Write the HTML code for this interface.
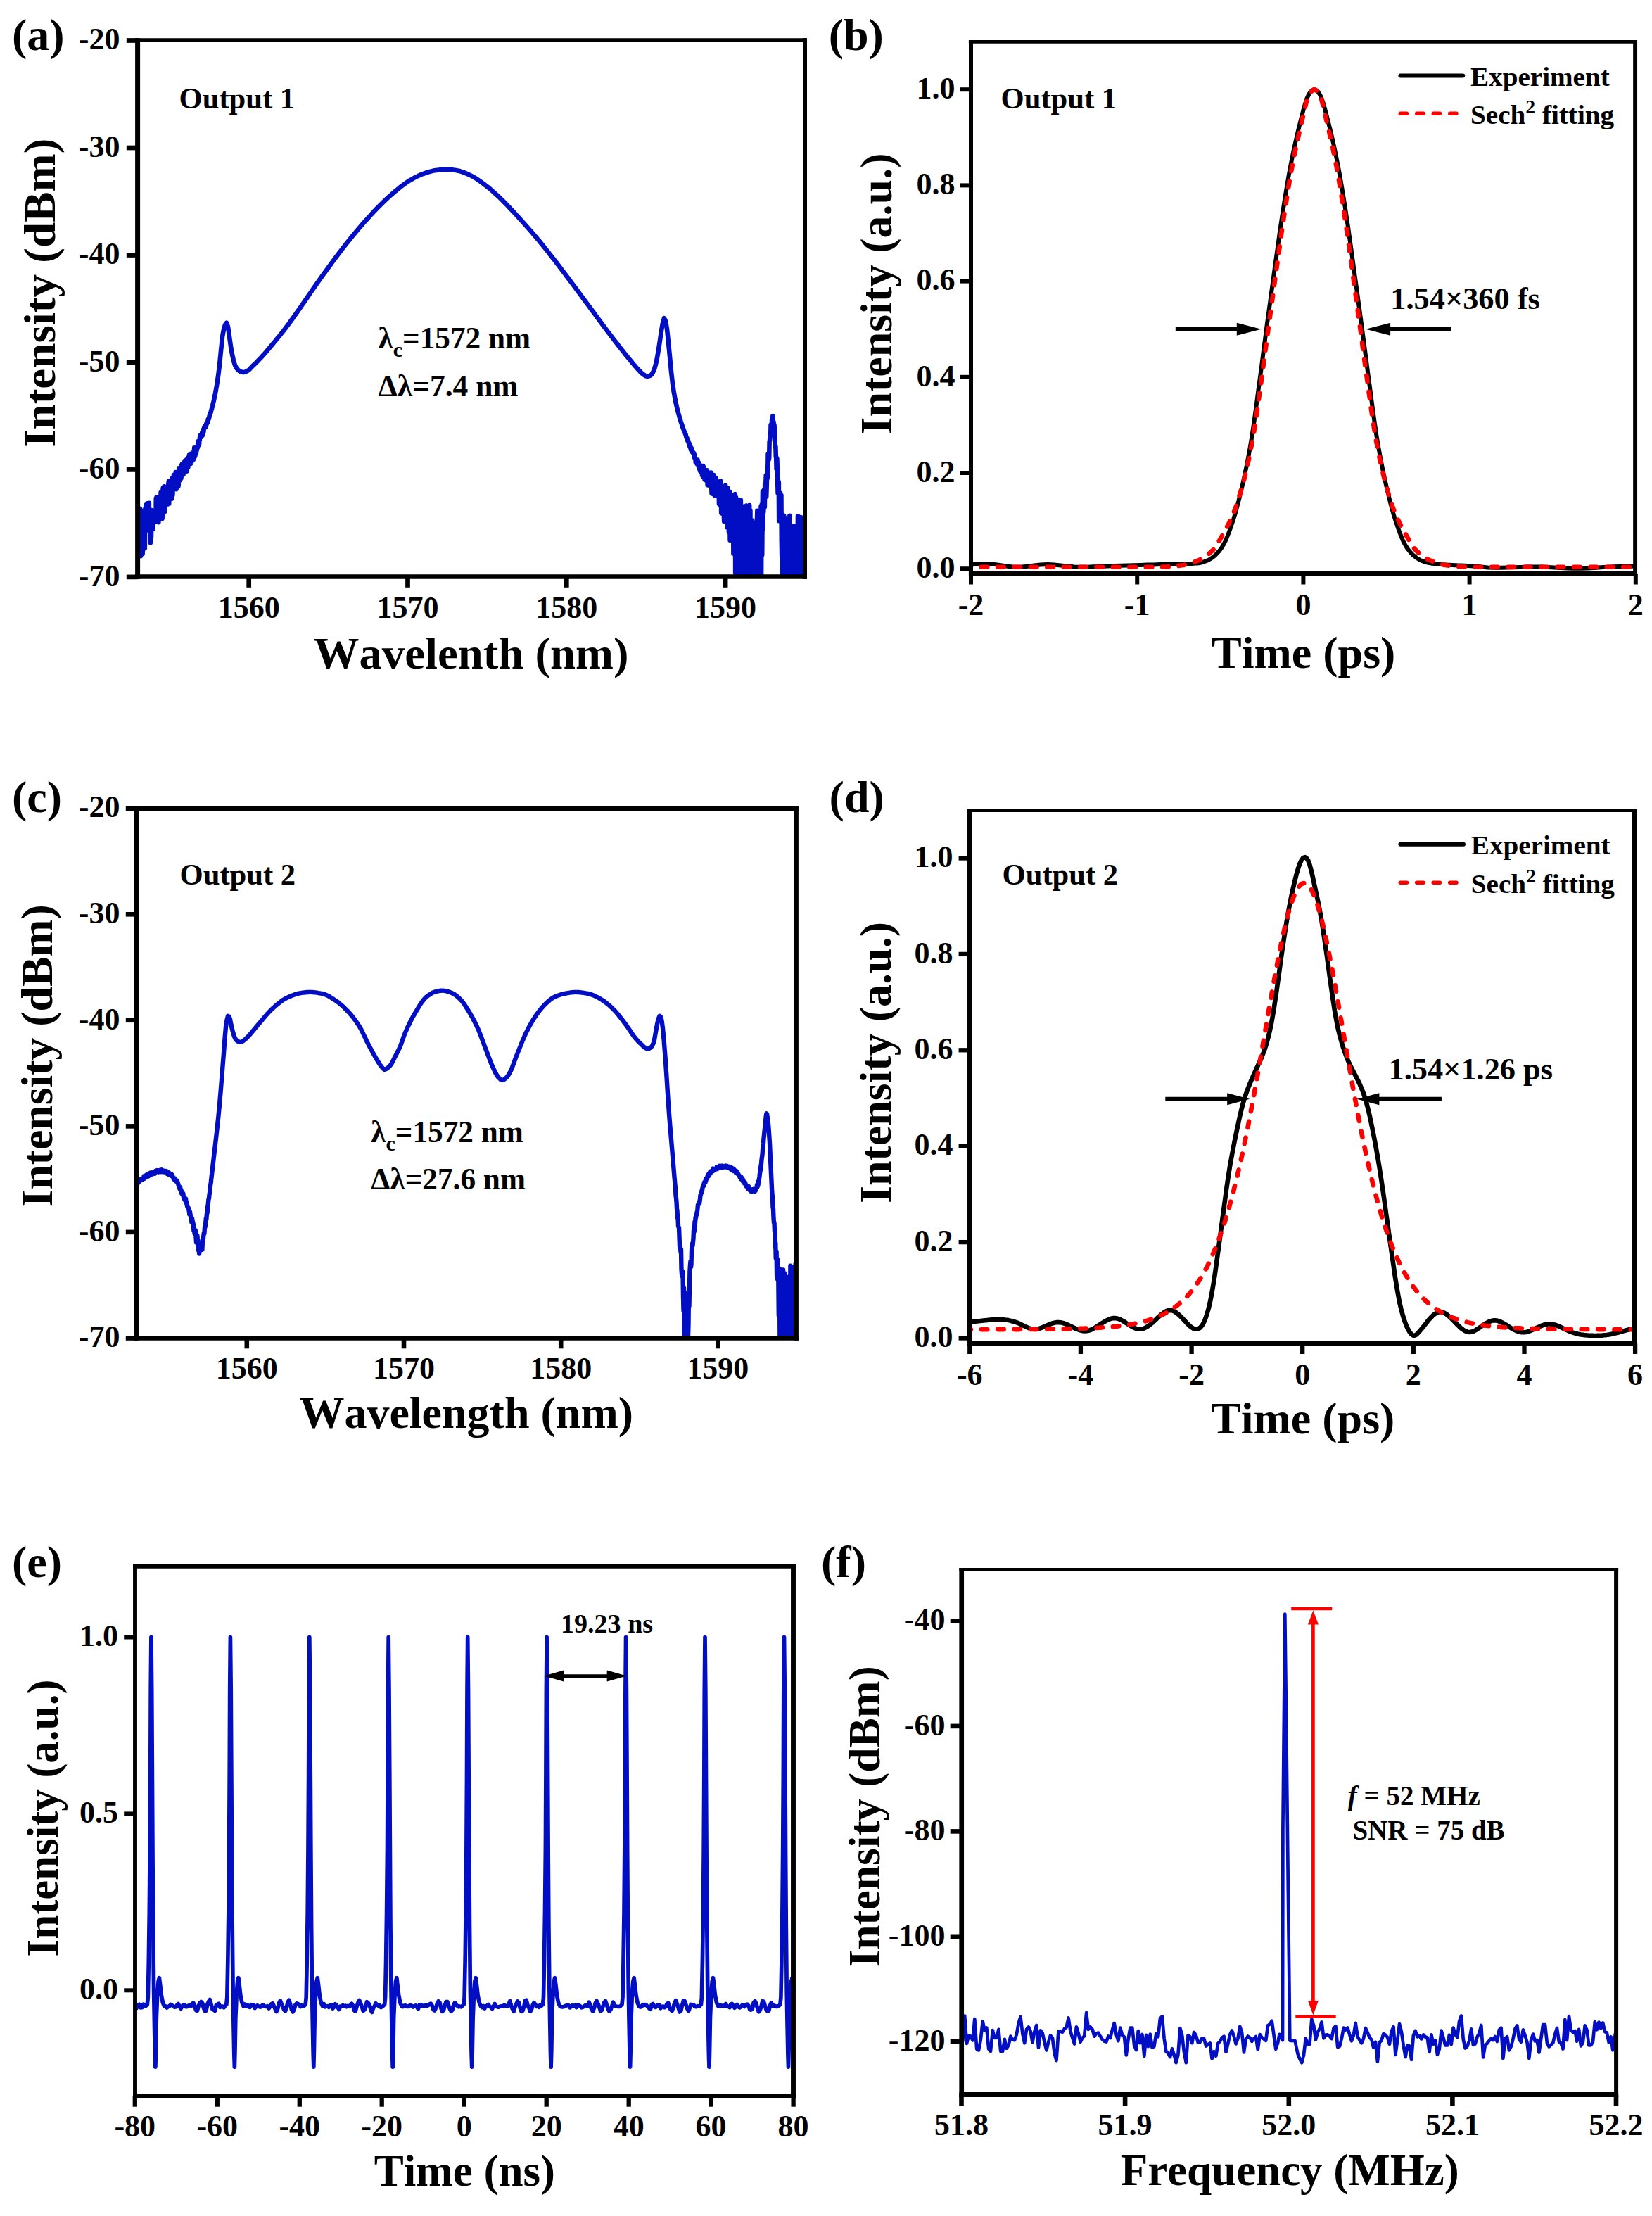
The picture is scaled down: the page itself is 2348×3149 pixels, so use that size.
<!DOCTYPE html>
<html lang="en"><head><meta charset="utf-8"><title>Figure</title>
<style>html,body{margin:0;padding:0;background:#fff}svg{display:block}text{font-family:'Liberation Serif', 'DejaVu Serif', serif;font-weight:bold;fill:#000;font-kerning:none}</style>
</head><body>
<svg width="2348" height="3149" viewBox="0 0 2348 3149">
<rect width="2348" height="3149" fill="#fff"/>
<defs><clipPath id="ca"><rect x="195.6" y="57.5" width="948.4" height="762.4"/></clipPath><clipPath id="cb"><rect x="1380.4" y="59.3" width="944" height="756.2"/></clipPath><clipPath id="cc"><rect x="194.6" y="1148.7" width="937.3" height="752.8"/></clipPath><clipPath id="cd"><rect x="1378.3" y="1152.6" width="945.8" height="756.2"/></clipPath><clipPath id="ce"><rect x="191.8" y="2226" width="935.8" height="752.7"/></clipPath><clipPath id="cf"><rect x="1366.5" y="2230.1" width="930.5" height="746.6"/></clipPath></defs>
<g id="panel-a">
<polyline points="194.6,778.2 195,768.4 195.4,732.3 195.8,739.6 196.2,761 196.6,766.2 197,744.4 197.4,781.3 197.8,739.1 198.2,723.7 198.6,773.3 199,722.9 199.4,738.5 199.8,790.3 200.2,753.9 200.6,725.2 201,735.5 201.4,762.4 201.8,732.7 202.2,771.7 202.6,787.2 203,776.9 203.4,758.6 203.8,748.2 204.2,764 204.6,725.8 205,769.7 205.4,775.8 205.8,779.2 206.2,736.4 206.6,721.9 207,735.3 207.4,717.5 207.8,727.4 208.2,720.1 208.6,716.5 209,736.2 209.4,715.4 209.8,738.4 210.2,753.5 210.6,740.1 211,727.1 211.4,747.3 211.8,714.8 212.2,751.6 212.6,744.9 213,750.2 213.4,742.8 213.8,771.3 214.2,725.7 214.6,746.2 215,762.8 215.4,725 215.8,752.3 216.2,742.4 216.6,733.3 217,752.3 217.4,746.6 217.8,729.9 218.2,729.3 218.6,742.2 219,738.8 219.4,739.4 219.8,740 220.2,726.5 220.6,742 221,724.8 221.4,738.5 221.8,708.4 222.2,741.5 222.6,706.6 223,740.2 223.4,710.3 223.8,715.8 224.2,736.3 224.6,708.6 225,732.6 225.4,742.1 225.8,713.1 226.2,716.2 226.6,711.5 227,733.7 227.4,728.8 227.8,707.9 228.2,737.1 228.6,699.9 229,717.3 229.4,708.6 229.8,721.6 230.2,727.8 230.6,736.8 231,724.8 231.4,696.9 231.8,693.1 232.2,712 232.6,714.1 233,718.1 233.4,691.4 233.8,727.4 234.2,710.3 234.6,720.3 235,716.2 235.4,694.9 235.8,716.4 236.2,701.6 236.6,708 237,702 237.4,708 237.8,709.4 238.2,708.7 238.6,716.4 239,699.9 239.4,686.5 239.8,684.2 240.2,715.8 240.6,684 241,710.1 241.4,687.8 241.8,683 242.2,706 242.6,699.3 243,697.1 243.4,697.5 243.8,691.3 244.2,708.6 244.6,693.1 245,679.4 245.4,703.3 245.8,689.3 246.2,688.8 246.6,679.8 247,674.8 247.4,680.8 247.8,692.7 248.2,680.6 248.6,689.1 249,677 249.4,678.8 249.8,671 250.2,673.1 250.6,695.2 251,687 251.4,671.6 251.8,677.4 252.2,683.5 252.6,691.3 253,671.8 253.4,691.5 253.8,688 254.2,665.2 254.6,669.3 255,666.8 255.4,675.2 255.8,682.4 256.2,672.6 256.6,674.6 257,680.6 257.4,679.8 257.8,676.8 258.2,661.1 258.6,659.7 259,664.9 259.4,663.9 259.8,663.2 260.2,667.1 260.6,674.2 261,658.7 261.4,658.1 261.8,660.9 262.2,656.1 262.6,654.8 263,663.4 263.4,657.9 263.8,660 264.2,669.9 264.6,664.9 265,669.7 265.4,653 265.8,669.4 266.2,658.3 266.6,664.8 267,664.8 267.4,663.8 267.8,650.1 268.2,656.2 268.6,658.5 269,646.6 269.4,653.6 269.8,657.4 270.2,655.5 270.6,649.3 271,658.8 271.4,647.1 271.8,644.6 272.2,650.5 272.6,650.5 273,654.9 273.4,649.4 273.8,643.3 274.2,648.1 274.6,644.2 275,652.8 275.4,649 275.8,648.5 276.2,636.2 276.6,649.4 277,645.8 277.4,647.8 277.8,637.8 278.2,636.8 278.6,640.2 279,643.8 279.4,637.1 279.8,639.8 280.2,635.3 280.6,635 281,636 281.4,627.2 281.8,628.1 282.2,629.8 282.6,629.7 283,632.2 283.4,625.3 283.8,625.4 284.2,620.1 284.6,618.6 285,619.3 285.4,617.9 285.8,620.6 286.2,620.8 286.6,618.8 287,617.4 287.4,614 287.8,618.7 288.2,614.1 288.6,610.9 289,615.1 289.4,613.6 289.8,608.9 290.2,609.3 290.6,606.6 291,607.7 291.4,605.1 291.8,604.9 292.2,604.9 292.6,606.5 293,605.3 293.4,601.3 293.8,602.8 294.2,600.2 294.6,600.3 295,599.2 295.4,599.8 295.8,595.8 296.2,596.4 296.6,595.2 297,594.8 297.4,592 297.8,590.4 298.2,589.9 298.6,588.7 299,586.8 299.4,586.9 299.8,584.7 300,584.1 302,576.8 304,568.7 306,559.1 308,548 310,534.8 312,519 314,498.7 316,478.9 318,468.2 320,461.4 322,458.7 324,464.3 326,478.3 328,492.2 330,503.8 332,512.5 334,519 336,522.7 338,525.3 340,527 342,528.1 344,528.8 346,529.1 348,528.7 350,527.8 352,526.8 354,525.3 356,523.3 358,521.2 360,519.2 362,517.3 364,515.4 366,513.4 368,511.3 370,509.2 372,507 374,504.8 376,502.6 378,500.3 380,497.9 382,495.6 384,493.2 386,490.8 388,488.4 390,486 392,483.6 394,481.2 396,478.7 398,476.2 400,473.7 402,471.2 404,468.7 406,466.1 408,463.4 410,460.8 412,458 414,455.3 416,452.5 418,449.7 420,446.8 422,444 424,441.1 426,438.3 428,435.4 430,432.5 432,429.6 434,426.7 436,423.8 438,420.8 440,417.9 442,415 444,412.1 446,409.2 448,406.3 450,403.5 452,400.7 454,397.8 456,395 458,392.2 460,389.4 462,386.7 464,383.9 466,381.2 468,378.4 470,375.7 472,372.9 474,370.2 476,367.5 478,364.8 480,362.2 482,359.5 484,356.9 486,354.3 488,351.7 490,349.2 492,346.6 494,344.1 496,341.6 498,339.1 500,336.6 502,334.2 504,331.8 506,329.4 508,327 510,324.6 512,322.3 514,320 516,317.7 518,315.4 520,313.2 522,311 524,308.8 526,306.6 528,304.4 530,302.3 532,300.1 534,298 536,295.9 538,293.9 540,291.9 542,289.9 544,287.9 546,286 548,284.1 550,282.2 552,280.4 554,278.5 556,276.8 558,275 560,273.3 562,271.6 564,270 566,268.4 568,266.7 570,265.1 572,263.6 574,262.1 576,260.6 578,259.2 580,257.9 582,256.7 584,255.5 586,254.3 588,253.2 590,252.1 592,251.1 594,250.1 596,249.2 598,248.3 600,247.5 602,246.8 604,246.1 606,245.4 608,244.8 610,244.2 612,243.6 614,243.1 616,242.6 618,242.2 620,241.9 622,241.7 624,241.5 626,241.3 628,241.1 630,240.9 632,240.8 634,240.7 636,240.7 638,240.8 640,240.9 642,241.1 644,241.4 646,241.7 648,242 650,242.4 652,242.8 654,243.3 656,244 658,244.7 660,245.4 662,246.2 664,247.1 666,248 668,248.9 670,249.9 672,250.9 674,252.1 676,253.3 678,254.6 680,256 682,257.4 684,258.8 686,260.3 688,261.7 690,263.3 692,264.8 694,266.4 696,268.1 698,269.8 700,271.6 702,273.4 704,275.2 706,277 708,278.8 710,280.7 712,282.7 714,284.6 716,286.6 718,288.7 720,290.7 722,292.8 724,294.9 726,297 728,299.1 730,301.2 732,303.4 734,305.6 736,307.8 738,310 740,312.2 742,314.4 744,316.7 746,318.9 748,321.2 750,323.4 752,325.7 754,327.9 756,330.2 758,332.5 760,334.8 762,337.2 764,339.6 766,341.9 768,344.4 770,346.8 772,349.3 774,351.8 776,354.3 778,356.8 780,359.3 782,361.9 784,364.4 786,367 788,369.5 790,372.1 792,374.7 794,377.3 796,379.9 798,382.6 800,385.2 802,387.9 804,390.5 806,393.2 808,395.8 810,398.5 812,401.2 814,403.9 816,406.6 818,409.3 820,412 822,414.7 824,417.4 826,420.1 828,422.8 830,425.5 832,428.2 834,430.9 836,433.6 838,436.3 840,439 842,441.7 844,444.4 846,447.1 848,449.9 850,452.6 852,455.3 854,458 856,460.7 858,463.4 860,466.1 862,468.8 864,471.4 866,474 868,476.7 870,479.3 872,481.9 874,484.5 876,487.1 878,489.6 880,492.2 882,494.7 884,497.3 886,499.8 888,502.4 890,504.9 892,507.3 894,509.8 896,512.2 898,514.6 900,517 902,519.3 904,521.6 906,523.9 908,526 910,528.1 912,530.2 914,531.8 916,533.2 918,534.3 920,534.8 922,534.5 924,533.8 926,532.5 928,529.2 930,524.7 932,517.6 934,508.5 936,496.7 938,483.8 940,470 942,458.8 944,452.1 946,456.2 948,467.5 950,486.4 952,507 954,528 956,545.5 958,558.7 960,569.6 962,578.7 964,586.6 966,593.6 966.4,594.9 966.8,596.1 967.2,597.5 967.6,598.9 968,599.9 968.4,601.3 968.8,602.4 969.2,603.9 969.6,604.6 970,606.3 970.4,607.5 970.8,608.5 971.2,609.4 971.6,610.5 972,611.6 972.4,613.2 972.8,613.5 973.2,614.3 973.6,614.9 974,616.7 974.4,617 974.8,617.9 975.2,620.5 975.6,621.9 976,622.8 976.4,622.4 976.8,624.7 977.2,626.2 977.6,624.8 978,626.5 978.4,626.6 978.8,629.7 979.2,631.3 979.6,632.6 980,630.4 980.4,634.6 980.8,632.8 981.2,636.4 981.6,634.4 982,639.3 982.4,638.6 982.8,639.5 983.2,637.3 983.6,638.6 984,642.5 984.4,643.2 984.8,642.3 985.2,643.7 985.6,642.9 986,645.2 986.4,647.3 986.8,645.4 987.2,650.6 987.6,651.3 988,652.4 988.4,652.2 988.8,657.2 989.2,654.3 989.6,656.5 990,658.1 990.4,658.9 990.8,654.1 991.2,659.1 991.6,653.6 992,660.3 992.4,657.8 992.8,663 993.2,657.5 993.6,665.6 994,665.5 994.4,665.9 994.8,668.9 995.2,661 995.6,665.8 996,670.9 996.4,665.4 996.8,666.7 997.2,666.9 997.6,664.3 998,675.2 998.4,668.7 998.8,676.8 999.2,662 999.6,667.4 1000,676.5 1000.4,664 1000.8,677.6 1001.2,674.7 1001.6,681.5 1002,675.5 1002.4,669.1 1002.8,681.9 1003.2,669.1 1003.6,676.5 1004,669.4 1004.4,683.3 1004.8,668.3 1005.2,672.2 1005.6,688.6 1006,678.5 1006.4,689.5 1006.8,674 1007.2,683 1007.6,673.7 1008,671.7 1008.4,689.9 1008.8,674 1009.2,685.1 1009.6,685.8 1010,679 1010.4,671.6 1010.8,679.1 1011.2,693 1011.6,701.3 1012,698.1 1012.4,692.5 1012.8,701.1 1013.2,702 1013.6,674.8 1014,700.1 1014.4,694.1 1014.8,675.2 1015.2,688.4 1015.6,683.8 1016,698.3 1016.4,685.4 1016.8,704.7 1017.2,697.8 1017.6,679.1 1018,685 1018.4,695.1 1018.8,695.8 1019.2,685.8 1019.6,699.4 1020,698.5 1020.4,693.6 1020.8,694.4 1021.2,699.1 1021.6,693.7 1022,715.9 1022.4,689.3 1022.8,717 1023.2,687.5 1023.6,697.7 1024,683.6 1024.4,706.3 1024.8,695.5 1025.2,729 1025.6,714.8 1026,724.8 1026.4,697.2 1026.8,730 1027.2,706.8 1027.6,722.6 1028,729.8 1028.4,693 1028.8,726.2 1029.2,740.9 1029.6,717.6 1030,731.9 1030.4,700.2 1030.8,705.9 1031.2,689.9 1031.6,694.8 1032,729.3 1032.4,695.2 1032.8,735.9 1033.2,696.4 1033.6,749.4 1034,693.4 1034.4,714.8 1034.8,723.3 1035.2,728.6 1035.6,731.7 1036,756.5 1036.4,713.3 1036.8,736.5 1037.2,698.9 1037.6,767.8 1038,728.8 1038.4,719.8 1038.8,710 1039.2,715.7 1039.6,736.1 1040,711.3 1040.4,713.4 1040.8,743.9 1041.2,739.7 1041.6,749.2 1042,710.8 1042.4,786.7 1042.8,709.3 1043.2,727.9 1043.6,752.4 1044,702.7 1044.4,702.3 1044.8,702.2 1045.2,814.3 1045.6,743.1 1046,706.9 1046.4,849.9 1046.8,774.3 1047.2,751.2 1047.6,781.9 1048,739.9 1048.4,744.8 1048.8,716.6 1049.2,798.4 1049.6,725.1 1050,754.1 1050.4,710 1050.8,718.4 1051.2,849.9 1051.6,773 1052,807.9 1052.4,760.5 1052.8,710.5 1053.2,749.6 1053.6,849.9 1054,732.2 1054.4,841.8 1054.8,769.8 1055.2,745.9 1055.6,719.5 1056,798.8 1056.4,744.3 1056.8,849.9 1057.2,849.9 1057.6,783.5 1058,756.2 1058.4,826.6 1058.8,738.6 1059.2,815.4 1059.6,836.9 1060,744.9 1060.4,743.8 1060.8,718.6 1061.2,849.9 1061.6,849.9 1062,731.5 1062.4,840.6 1062.8,724.9 1063.2,763.3 1063.6,759 1064,849.9 1064.4,764.6 1064.8,728.5 1065.2,718.1 1065.6,804.1 1066,849.9 1066.4,725.7 1066.8,795.6 1067.2,786.7 1067.6,783.2 1068,768.7 1068.4,849.9 1068.8,849.9 1069.2,739.5 1069.6,756 1070,802 1070.4,753.1 1070.8,745.8 1071.2,840.1 1071.6,803 1072,849.9 1072.4,849.9 1072.8,762.2 1073.2,743 1073.6,759.8 1074,849.9 1074.4,755 1074.8,797.6 1075.2,788.6 1075.6,849.9 1076,737.6 1076.4,725.8 1076.8,832.8 1077.2,805.9 1077.6,774.7 1078,793.2 1078.4,798.8 1078.8,737.2 1079.2,746.7 1079.6,806.2 1080,747 1080.4,740.3 1080.8,772.6 1081.2,811.3 1081.6,719.3 1082,849.9 1082.4,727.2 1082.8,717.1 1083.2,788.5 1083.6,731.9 1084,698.3 1084.4,751.9 1084.8,715.8 1085.2,727.8 1085.6,720.6 1086,696 1086.4,705.2 1086.8,720.5 1087.2,687.7 1087.6,694 1088,705 1088.4,685.1 1088.8,675.2 1089.2,705.6 1089.6,694.2 1090,680.2 1090.4,680.2 1090.8,663.4 1091.2,678.6 1091.6,645.3 1092,646.3 1092.4,650.7 1092.8,653.4 1093.2,650 1093.6,628.2 1094,626.2 1094.4,623.4 1094.8,619.7 1095.2,619.1 1095.6,603.9 1096,608.7 1096.4,604.6 1096.8,602.2 1097.2,595.5 1097.6,597.5 1098,599.5 1098.4,591 1098.8,601.6 1099.2,603.8 1099.6,599.7 1100,606.6 1100.4,603.3 1100.8,608.2 1101.2,618.7 1101.6,632.4 1102,635.9 1102.4,634.2 1102.8,648.8 1103.2,648.7 1103.6,666.5 1104,658.1 1104.4,652 1104.8,666.6 1105.2,685.4 1105.6,700.6 1106,682.6 1106.4,689.7 1106.8,685.1 1107.2,740.3 1107.6,733.9 1108,705.7 1108.4,712.7 1108.8,708.7 1109.2,700.8 1109.6,711.7 1110,727 1110.4,703.9 1110.8,766.9 1111.2,791 1111.6,792.2 1112,743 1112.4,849.9 1112.8,778.9 1113.2,795.5 1113.6,849.9 1114,732.6 1114.4,733.4 1114.8,845.1 1115.2,849.9 1115.6,760 1116,849.9 1116.4,769.2 1116.8,811.6 1117.2,737.6 1117.6,847.9 1118,785.9 1118.4,849.9 1118.8,833.4 1119.2,736.9 1119.6,849.9 1120,754.7 1120.4,812.5 1120.8,786.2 1121.2,740.8 1121.6,740.7 1122,824.8 1122.4,732.8 1122.8,849.9 1123.2,849.9 1123.6,782.9 1124,788.7 1124.4,806 1124.8,849.9 1125.2,837.6 1125.6,801.2 1126,849.9 1126.4,849.9 1126.8,849.9 1127.2,752 1127.6,785.4 1128,849.9 1128.4,794.8 1128.8,747.2 1129.2,849.9 1129.6,849.9 1130,849.9 1130.4,826.7 1130.8,849.9 1131.2,749.6 1131.6,799.1 1132,849.9 1132.4,849.9 1132.8,807.9 1133.2,759.8 1133.6,779.9 1134,733.4 1134.4,849.9 1134.8,780.9 1135.2,736.6 1135.6,824.1 1136,849.9 1136.4,849.9 1136.8,841.3 1137.2,849.9 1137.6,813.8 1138,735.1 1138.4,744.1 1138.8,784.1 1139.2,738.1 1139.6,778 1140,849.9 1140.4,773.5 1140.8,785.5 1141.2,775 1141.6,849.9 1142,761.7 1142.4,797.4 1142.8,735.2 1143.2,849.9 1143.6,799.4 1144,746.8 1144.4,849.9 1144.8,756.4 1145.2,738.3 1145.6,760.9" fill="none" stroke="#020ec4" stroke-width="6.6" stroke-linejoin="round" clip-path="url(#ca)"/>
<line x1="192.1" y1="57.1" x2="1147" y2="57.1" stroke="#000" stroke-width="5.8"/>
<line x1="192.1" y1="819.5" x2="1147" y2="819.5" stroke="#000" stroke-width="6.7"/>
<line x1="195.6" y1="54.2" x2="195.6" y2="822.9" stroke="#000" stroke-width="7"/>
<line x1="1144" y1="54.2" x2="1144" y2="822.9" stroke="#000" stroke-width="6"/>
<line x1="179.8" y1="57.5" x2="195.6" y2="57.5" stroke="#000" stroke-width="6.7"/>
<text transform="translate(170.5,70.2)" font-size="44" text-anchor="end">-20</text>
<line x1="179.8" y1="210" x2="195.6" y2="210" stroke="#000" stroke-width="6.7"/>
<text transform="translate(170.5,222.7)" font-size="44" text-anchor="end">-30</text>
<line x1="179.8" y1="362.5" x2="195.6" y2="362.5" stroke="#000" stroke-width="6.7"/>
<text transform="translate(170.5,375.2)" font-size="44" text-anchor="end">-40</text>
<line x1="179.8" y1="514.9" x2="195.6" y2="514.9" stroke="#000" stroke-width="6.7"/>
<text transform="translate(170.5,527.6)" font-size="44" text-anchor="end">-50</text>
<line x1="179.8" y1="667.4" x2="195.6" y2="667.4" stroke="#000" stroke-width="6.7"/>
<text transform="translate(170.5,680.1)" font-size="44" text-anchor="end">-60</text>
<line x1="179.8" y1="819.9" x2="195.6" y2="819.9" stroke="#000" stroke-width="6.7"/>
<text transform="translate(170.5,832.6)" font-size="44" text-anchor="end">-70</text>
<line x1="353.7" y1="819.9" x2="353.7" y2="834.8" stroke="#000" stroke-width="6.7"/>
<text transform="translate(353.7,878.3)" font-size="44" text-anchor="middle">1560</text>
<line x1="579.5" y1="819.9" x2="579.5" y2="834.8" stroke="#000" stroke-width="6.7"/>
<text transform="translate(579.5,878.3)" font-size="44" text-anchor="middle">1570</text>
<line x1="805.3" y1="819.9" x2="805.3" y2="834.8" stroke="#000" stroke-width="6.7"/>
<text transform="translate(805.3,878.3)" font-size="44" text-anchor="middle">1580</text>
<line x1="1031.1" y1="819.9" x2="1031.1" y2="834.8" stroke="#000" stroke-width="6.7"/>
<text transform="translate(1031.1,878.3)" font-size="44" text-anchor="middle">1590</text>
<text transform="translate(669.6,949.9) scale(1.012,1)" font-size="64" text-anchor="middle">Wavelenth (nm)</text>
<text transform="translate(77.5,416.2) rotate(-90) scale(1.017,1)" font-size="64" text-anchor="middle">Intensity (dBm)</text>
<text transform="translate(17,71.1)" font-size="64" text-anchor="start">(a)</text>
<text transform="translate(254.5,154.4) scale(0.992,1)" font-size="43" text-anchor="start">Output 1</text>
<text transform="translate(537.5,495) scale(0.995,1)" font-size="43.5" text-anchor="start">λ<tspan font-size="30" dy="12">c</tspan><tspan dy="-12">=1572 nm</tspan></text>
<text transform="translate(537.5,562.9)" font-size="43.5" text-anchor="start">Δλ=7.4 nm</text>
</g>
<g id="panel-b">
<polyline points="1375.3,802.6 1384.7,801.9 1394.2,801.5 1403.6,801.4 1413.1,801.9 1422.5,803.2 1432,804.7 1441.4,805.7 1450.9,805.7 1460.3,804.8 1469.8,803.6 1479.2,802.5 1488.7,802.1 1498.1,802.5 1507.5,803.4 1517,804.5 1526.4,805.4 1535.9,805.8 1545.3,805.7 1554.8,805.3 1564.2,804.9 1573.7,804.4 1583.1,804 1592.6,803.7 1602,803.4 1611.5,803.2 1620.9,802.9 1630.4,802.6 1639.8,802.4 1649.3,802.1 1658.7,801.9 1663.4,801.7 1665.8,801.7 1668.2,801.6 1670.5,801.5 1672.9,801.5 1675.2,801.4 1677.6,801.4 1680,801.3 1682.3,801.3 1684.7,801.2 1687.1,801.1 1689.4,801.1 1691.8,801 1694.1,800.9 1696.5,800.7 1698.9,800.6 1701.2,800.5 1703.6,800.3 1706,799.9 1708.3,799.3 1710.7,798.5 1713,797.7 1715.4,796.8 1717.8,795.7 1720.1,794.3 1722.5,792.7 1724.9,791 1727.2,789 1729.6,786.7 1731.9,784.1 1734.3,781.1 1736.7,777.7 1739,773.9 1741.4,769.3 1743.7,764 1746.1,758 1748.5,751.5 1750.8,744.7 1753.2,737.6 1755.6,729.9 1757.9,721.5 1760.3,712.5 1762.6,703 1765,693.1 1767.4,682.8 1769.7,671.9 1772.1,660.4 1774.5,648.2 1776.8,635.2 1779.2,621.3 1781.5,605.7 1783.9,588.8 1786.3,571.2 1788.6,553.4 1791,535.9 1793.4,518 1795.7,499.9 1798.1,481.9 1800.4,464.2 1802.8,446.7 1805.2,429.4 1807.5,412.3 1809.9,395.2 1812.2,378.1 1814.6,361 1817,343.8 1819.3,327 1821.7,311.1 1824.1,295.8 1826.4,280.8 1828.8,266.4 1831.1,252.5 1833.5,239.5 1835.9,227.3 1838.2,215.8 1840.6,204.9 1843,194.5 1845.3,184.6 1847.7,175.1 1850,165.9 1852.4,156.6 1854.8,148.1 1857.1,140.8 1859.5,135.5 1861.8,131.4 1864.2,129 1866.6,127.5 1868.9,127.3 1871.3,128.7 1873.7,130.8 1876,134.5 1878.4,139.6 1880.7,146.5 1883.1,154.8 1885.5,164 1887.8,173.3 1890.2,182.6 1892.6,192.5 1894.9,202.8 1897.3,213.6 1899.6,225 1902,237 1904.4,249.9 1906.7,263.5 1909.1,277.9 1911.5,292.8 1913.8,308 1916.2,323.7 1918.5,340.4 1920.9,357.5 1923.3,374.7 1925.6,391.8 1928,408.8 1930.3,426 1932.7,443.3 1935.1,460.7 1937.4,478.3 1939.8,496.3 1942.2,514.4 1944.5,532.4 1946.9,549.9 1949.2,567.6 1951.6,585.3 1954,602.4 1956.3,618.3 1958.7,632.6 1961.1,645.7 1963.4,658 1965.8,669.7 1968.1,680.7 1970.5,691.1 1972.9,701.1 1975.2,710.7 1977.6,719.8 1979.9,728.3 1982.3,736.1 1984.7,743.3 1987,750.2 1989.4,756.7 1991.8,762.8 1994.1,768.3 1996.5,773.1 1998.8,777 2001.2,780.5 2003.6,783.5 2005.9,786.2 2008.3,788.6 2010.7,790.6 2013,792.4 2015.4,794 2017.7,795.4 2020.1,796.6 2022.5,797.5 2024.8,798.3 2027.2,799 2029.6,799.7 2031.9,800.1 2034.3,800.5 2036.6,800.8 2039,801.1 2041.4,801.4 2043.7,801.6 2046.1,801.8 2048.4,802 2050.8,802.2 2053.2,802.4 2055.5,802.5 2057.9,802.7 2060.3,802.8 2062.6,803 2065,803.1 2067.3,803.2 2069.7,803.3 2072.1,803.4 2074.4,803.5 2076.8,803.6 2086.2,804 2095.7,804.6 2105.1,805.6 2114.6,806.5 2124,806.8 2133.5,806.7 2142.9,806.5 2152.4,806.2 2161.8,805.9 2171.3,805.6 2180.7,805.5 2190.2,805.6 2199.6,805.9 2209.1,806.5 2218.5,807 2228,807.5 2237.4,807.8 2246.9,807.8 2256.3,807.5 2265.8,806.9 2275.2,806.2 2284.6,805.7 2294.1,805.3 2303.5,805 2313,804.7 2322.4,804.4" fill="none" stroke="#000" stroke-width="6" stroke-linejoin="round" clip-path="url(#cb)"/>
<polyline points="1375.3,805.8 1384.7,805.8 1394.2,805.8 1403.6,805.8 1413.1,805.8 1422.5,805.8 1432,805.8 1441.4,805.8 1450.9,805.8 1460.3,805.8 1469.8,805.8 1479.2,805.8 1488.7,805.8 1498.1,805.8 1507.5,805.8 1517,805.8 1526.4,805.8 1535.9,805.8 1545.3,805.8 1554.8,805.8 1564.2,805.8 1573.7,805.8 1583.1,805.8 1592.6,805.8 1602,805.8 1611.5,805.8 1620.9,805.8 1630.4,805.8 1639.8,805.8 1649.3,805.6 1658.7,805.4 1663.4,805.1 1665.8,804.9 1668.2,804.7 1670.5,804.5 1672.9,804.2 1675.2,803.9 1677.6,803.6 1680,803.3 1682.3,802.9 1684.7,802.4 1687.1,801.9 1689.4,801.3 1691.8,800.6 1694.1,799.8 1696.5,799 1698.9,798.1 1701.2,797.2 1703.6,796.2 1706,795.1 1708.3,793.9 1710.7,792.4 1713,790.9 1715.4,789.2 1717.8,787.3 1720.1,785.2 1722.5,783.1 1724.9,780.7 1727.2,777.7 1729.6,774.1 1731.9,770.2 1734.3,766.1 1736.7,761.8 1739,757.5 1741.4,753.3 1743.7,749 1746.1,744.6 1748.5,739.8 1750.8,734.7 1753.2,729.1 1755.6,723 1757.9,716.3 1760.3,709.1 1762.6,701.3 1765,693.1 1767.4,684.4 1769.7,675.1 1772.1,665.1 1774.5,654.4 1776.8,642.9 1779.2,630.8 1781.5,617.6 1783.9,602.8 1786.3,586.8 1788.6,570 1791,553.1 1793.4,536.2 1795.7,518.9 1798.1,501.2 1800.4,483.5 1802.8,466 1805.2,448.6 1807.5,431.3 1809.9,414.1 1812.2,396.9 1814.6,379.9 1817,362.7 1819.3,345.6 1821.7,328.7 1824.1,312.6 1826.4,297.2 1828.8,281.9 1831.1,267.2 1833.5,253 1835.9,239.6 1838.2,227.2 1840.6,215.6 1843,204.6 1845.3,194.1 1847.7,183.9 1850,173.8 1852.4,163.4 1854.8,152.8 1857.1,143.7 1859.5,137.1 1861.8,132.2 1864.2,129.4 1866.6,127.6 1868.9,127.4 1871.3,128.9 1873.7,131.4 1876,136 1878.4,142.1 1880.7,150.9 1883.1,161.2 1885.5,171.8 1887.8,181.9 1890.2,192.1 1892.6,202.5 1894.9,213.4 1897.3,224.8 1899.6,237.1 1902,250.3 1904.4,264.3 1906.7,279 1909.1,294.1 1911.5,309.5 1913.8,325.5 1916.2,342.2 1918.5,359.3 1920.9,376.4 1923.3,393.5 1925.6,410.6 1928,427.9 1930.3,445.2 1932.7,462.5 1935.1,480 1937.4,497.7 1939.8,515.4 1942.2,532.8 1944.5,549.7 1946.9,566.6 1949.2,583.5 1951.6,599.7 1954,614.8 1956.3,628.2 1958.7,640.6 1961.1,652.1 1963.4,663 1965.8,673.1 1968.1,682.6 1970.5,691.4 1972.9,699.7 1975.2,707.5 1977.6,714.9 1979.9,721.7 1982.3,727.9 1984.7,733.6 1987,738.8 1989.4,743.6 1991.8,748.2 1994.1,752.5 1996.5,756.7 1998.8,760.9 2001.2,765.2 2003.6,769.4 2005.9,773.4 2008.3,777 2010.7,780.1 2013,782.6 2015.4,784.8 2017.7,786.9 2020.1,788.8 2022.5,790.5 2024.8,792.1 2027.2,793.6 2029.6,794.9 2031.9,796 2034.3,797 2036.6,797.9 2039,798.8 2041.4,799.6 2043.7,800.4 2046.1,801.1 2048.4,801.8 2050.8,802.3 2053.2,802.8 2055.5,803.2 2057.9,803.6 2060.3,803.9 2062.6,804.1 2065,804.4 2067.3,804.6 2069.7,804.9 2072.1,805 2074.4,805.2 2076.8,805.3 2086.2,805.6 2095.7,805.8 2105.1,805.8 2114.6,805.8 2124,805.8 2133.5,805.8 2142.9,805.8 2152.4,805.8 2161.8,805.8 2171.3,805.8 2180.7,805.8 2190.2,805.8 2199.6,805.8 2209.1,805.8 2218.5,805.8 2228,805.8 2237.4,805.8 2246.9,805.8 2256.3,805.8 2265.8,805.8 2275.2,805.8 2284.6,805.8 2294.1,805.8 2303.5,805.8 2313,805.8 2322.4,805.8" fill="none" stroke="#ff0000" stroke-width="6.6" stroke-linejoin="round" stroke-dasharray="8.6 14.8" stroke-linecap="round" stroke-dashoffset="4" clip-path="url(#cb)"/>
<line x1="1376.9" y1="59.4" x2="2327" y2="59.4" stroke="#000" stroke-width="4.8"/>
<line x1="1376.9" y1="815.5" x2="2327" y2="815.5" stroke="#000" stroke-width="7"/>
<line x1="1380" y1="56.9" x2="1380" y2="819" stroke="#000" stroke-width="6"/>
<line x1="2324.1" y1="56.9" x2="2324.1" y2="819" stroke="#000" stroke-width="5.9"/>
<line x1="1364.9" y1="808.2" x2="1380.4" y2="808.2" stroke="#000" stroke-width="6"/>
<text transform="translate(1357.5,820.9)" font-size="44" text-anchor="end">0.0</text>
<line x1="1364.9" y1="672" x2="1380.4" y2="672" stroke="#000" stroke-width="6"/>
<text transform="translate(1357.5,684.7)" font-size="44" text-anchor="end">0.2</text>
<line x1="1364.9" y1="535.8" x2="1380.4" y2="535.8" stroke="#000" stroke-width="6"/>
<text transform="translate(1357.5,548.5)" font-size="44" text-anchor="end">0.4</text>
<line x1="1364.9" y1="399.6" x2="1380.4" y2="399.6" stroke="#000" stroke-width="6"/>
<text transform="translate(1357.5,412.3)" font-size="44" text-anchor="end">0.6</text>
<line x1="1364.9" y1="263.4" x2="1380.4" y2="263.4" stroke="#000" stroke-width="6"/>
<text transform="translate(1357.5,276.1)" font-size="44" text-anchor="end">0.8</text>
<line x1="1364.9" y1="127.2" x2="1380.4" y2="127.2" stroke="#000" stroke-width="6"/>
<text transform="translate(1357.5,139.9)" font-size="44" text-anchor="end">1.0</text>
<line x1="1380" y1="815.5" x2="1380" y2="830.5" stroke="#000" stroke-width="6"/>
<text transform="translate(1380,873.9)" font-size="44" text-anchor="middle">-2</text>
<line x1="1616.2" y1="815.5" x2="1616.2" y2="830.5" stroke="#000" stroke-width="6"/>
<text transform="translate(1616.2,873.9)" font-size="44" text-anchor="middle">-1</text>
<line x1="1852.4" y1="815.5" x2="1852.4" y2="830.5" stroke="#000" stroke-width="6"/>
<text transform="translate(1852.4,873.9)" font-size="44" text-anchor="middle">0</text>
<line x1="2088.6" y1="815.5" x2="2088.6" y2="830.5" stroke="#000" stroke-width="6"/>
<text transform="translate(2088.6,873.9)" font-size="44" text-anchor="middle">1</text>
<line x1="2324.8" y1="815.5" x2="2324.8" y2="830.5" stroke="#000" stroke-width="6"/>
<text transform="translate(2324.8,873.9)" font-size="44" text-anchor="middle">2</text>
<text transform="translate(1852.7,948.8)" font-size="64" text-anchor="middle">Time (ps)</text>
<text transform="translate(1266.8,417.5) rotate(-90)" font-size="64" text-anchor="middle">Intensity (a.u.)</text>
<text transform="translate(1177.7,71.1)" font-size="64" text-anchor="start">(b)</text>
<text transform="translate(1422.5,154.4) scale(0.992,1)" font-size="43" text-anchor="start">Output 1</text>
<line x1="1990.4" y1="107.4" x2="2079.2" y2="107.4" stroke="#000" stroke-width="6" stroke-linecap="round"/>
<line x1="1990.2" y1="161.3" x2="2070" y2="161.3" stroke="#ff0000" stroke-width="5.5" stroke-dasharray="9.3 14.2" stroke-linecap="round"/>
<text transform="translate(2090,121.5) scale(1.030,1)" font-size="38" text-anchor="start">Experiment</text>
<text transform="translate(2090,175.5) scale(1.030,1)" font-size="38" text-anchor="start">Sech<tspan font-size="27" dy="-15">2</tspan><tspan dy="15"> fitting</tspan></text>
<line x1="1670.8" y1="467.8" x2="1764.8" y2="467.8" stroke="#000" stroke-width="6"/>
<polygon points="1792.8,467.8 1757.8,458.8 1757.8,476.8" fill="#000"/>
<line x1="2062.7" y1="467.8" x2="1969.1" y2="467.8" stroke="#000" stroke-width="6"/>
<polygon points="1941.1,467.8 1976.1,458.8 1976.1,476.8" fill="#000"/>
<text transform="translate(1976.3,439) scale(1.020,1)" font-size="43.5" text-anchor="start">1.54×360 fs</text>
</g>
<g id="panel-c">
<polyline points="192.6,1681.3 193.2,1683 193.8,1679 194.4,1682.7 195,1680.8 195.6,1681.9 196.2,1679.4 196.8,1677.7 197.4,1678.4 198,1679.2 198.6,1676.8 199.2,1675.9 199.8,1677.7 200.4,1676.9 201,1677 201.6,1675.4 202.2,1676.8 202.8,1674.8 203.4,1675.8 204,1674.7 204.6,1671.2 205.2,1674.8 205.8,1673.4 206.4,1672.7 207,1670.4 207.6,1673.1 208.2,1669.4 208.8,1669.9 209.4,1668.8 210,1668.8 210.6,1669.5 211.2,1671.4 211.8,1667.6 212.4,1668.6 213,1670 213.6,1666.6 214.2,1669.5 214.8,1669.1 215.4,1667.2 216,1666.4 216.6,1668.6 217.2,1667.3 217.8,1666.9 218.4,1666.7 219,1666.4 219.6,1666.3 220.2,1667.7 220.8,1664 221.4,1665.1 222,1664.4 222.6,1664.4 223.2,1663.1 223.8,1664.5 224.4,1665.1 225,1663.4 225.6,1665.4 226.2,1663.7 226.8,1663.1 227.4,1663.7 228,1662.6 228.6,1665.2 229.2,1662.6 229.8,1662.2 230.4,1662.6 231,1664.4 231.6,1665.4 232.2,1663.8 232.8,1665.3 233.4,1663.8 234,1665.4 234.6,1664.1 235.2,1665.6 235.8,1665.5 236.4,1664.2 237,1666.4 237.6,1668 238.2,1664.8 238.8,1668.2 239.4,1668 240,1666.5 240.6,1669.8 241.2,1667.2 241.8,1668.7 242.4,1668.4 243,1670.3 243.6,1671 244.2,1668.9 244.8,1669.7 245.4,1671.4 246,1673.3 246.6,1675.1 247.2,1676 247.8,1675.8 248.4,1674.5 249,1677.4 249.6,1678.3 250.2,1677.8 250.8,1677.5 251.4,1677.4 252,1678.5 252.6,1681.4 253.2,1682.1 253.8,1684.9 254.4,1687.1 255,1685.8 255.6,1689.7 256.2,1687 256.8,1692.4 257.4,1690.8 258,1695.7 258.6,1693.2 259.2,1697.4 259.8,1695.9 260.4,1696 261,1702.6 261.6,1701.8 262.2,1704.7 262.8,1705.2 263.4,1706.1 264,1703.2 264.6,1709.1 265.2,1708.2 265.8,1713.1 266.4,1715.1 267,1715.7 267.6,1715.8 268.2,1717.9 268.8,1721.6 269.4,1725.8 270,1721.9 270.6,1726.5 271.2,1728.4 271.8,1729.2 272.4,1737 273,1731.1 273.6,1735 274.2,1737 274.8,1739.7 275.4,1748.8 276,1745.1 276.6,1752.9 277.2,1751.1 277.8,1748.2 278.4,1755.5 279,1765.6 279.6,1756.6 280.2,1754.9 280.8,1759.7 281.4,1763.3 282,1776.5 282.6,1774.4 283.2,1781.5 283.8,1775.3 284.4,1771.6 285,1768.2 285.6,1776 286.2,1774.5 286.8,1775.7 287.4,1775.7 288,1761 288.6,1762.6 289.2,1757.4 289.8,1752.3 290.4,1753 291,1743.1 291.6,1743.7 292.2,1738.7 292.8,1731.4 293.4,1732.5 294,1723.9 294.6,1723.8 295.2,1714.9 295.8,1711.6 296.4,1704.4 297,1703 297.6,1696.5 298.2,1695.5 298.8,1686.7 299.4,1682.6 300,1678.9 300,1677.6 301.5,1664.7 303,1651.6 304.5,1638.8 306,1626 307.5,1613.1 309,1599.7 310.5,1585.5 312,1569.9 313.5,1552.5 315,1533.9 316.5,1515.1 318,1496.6 319.5,1476 321,1459 322.5,1449.6 324,1443.8 325.5,1444.6 327,1448.3 328.5,1456.3 330,1462.7 331.5,1468.3 333,1472.9 334.5,1476 336,1478.2 337.5,1479.5 339,1480.3 340.5,1480.8 342,1480.9 343.5,1480.3 345,1479.4 346.5,1478.5 348,1477.3 349.5,1476 351,1474.5 352.5,1473 354,1471.4 355.5,1469.8 357,1468 358.5,1466.2 360,1464.4 361.5,1462.6 363,1460.7 364.5,1458.9 366,1457.1 367.5,1455.4 369,1453.7 370.5,1451.9 372,1450.1 373.5,1448.3 375,1446.5 376.5,1444.7 378,1443 379.5,1441.2 381,1439.6 382.5,1437.9 384,1436.4 385.5,1434.9 387,1433.5 388.5,1432.1 390,1430.8 391.5,1429.5 393,1428.2 394.5,1426.9 396,1425.7 397.5,1424.5 399,1423.4 400.5,1422.3 402,1421.2 403.5,1420.3 405,1419.4 406.5,1418.6 408,1417.9 409.5,1417.2 411,1416.5 412.5,1415.8 414,1415.2 415.5,1414.5 417,1414 418.5,1413.4 420,1412.9 421.5,1412.4 423,1412 424.5,1411.7 426,1411.3 427.5,1411.1 429,1410.9 430.5,1410.7 432,1410.5 433.5,1410.3 435,1410.2 436.5,1410 438,1410 439.5,1409.9 441,1409.9 442.5,1409.9 444,1410 445.5,1410.1 447,1410.3 448.5,1410.4 450,1410.6 451.5,1410.8 453,1411.1 454.5,1411.3 456,1411.6 457.5,1411.8 459,1412.2 460.5,1412.6 462,1413.1 463.5,1413.8 465,1414.5 466.5,1415.3 468,1416.1 469.5,1417 471,1417.9 472.5,1418.9 474,1419.8 475.5,1420.8 477,1421.8 478.5,1422.8 480,1423.9 481.5,1425.1 483,1426.3 484.5,1427.6 486,1428.9 487.5,1430.3 489,1431.7 490.5,1433.2 492,1434.7 493.5,1436.2 495,1437.8 496.5,1439.4 498,1441.1 499.5,1442.9 501,1444.7 502.5,1446.6 504,1448.6 505.5,1450.7 507,1452.8 508.5,1455 510,1457.3 511.5,1459.7 513,1462.3 514.5,1465.2 516,1468.3 517.5,1471.5 519,1474.7 520.5,1477.9 522,1481 523.5,1483.9 525,1486.7 526.5,1489.5 528,1492.3 529.5,1495.1 531,1497.8 532.5,1500.4 534,1503 535.5,1505.6 537,1508 538.5,1510.5 540,1512.8 541.5,1514.9 543,1516.7 544.5,1518.5 546,1519.7 547.5,1519.7 549,1518.9 550.5,1517.9 552,1516.7 553.5,1515.3 555,1513.6 556.5,1511.6 558,1508.8 559.5,1505.6 561,1502.5 562.5,1499.7 564,1496.8 565.5,1493.9 567,1490.9 568.5,1487.7 570,1484 571.5,1479.7 573,1475.3 574.5,1471.1 576,1467.4 577.5,1463.9 579,1460.6 580.5,1457.4 582,1454.3 583.5,1451.3 585,1448.4 586.5,1445.6 588,1442.9 589.5,1440.3 591,1437.8 592.5,1435.3 594,1432.8 595.5,1430.3 597,1427.9 598.5,1425.6 600,1423.5 601.5,1421.5 603,1419.7 604.5,1418.1 606,1416.7 607.5,1415.5 609,1414.4 610.5,1413.3 612,1412.3 613.5,1411.4 615,1410.6 616.5,1410 618,1409.5 619.5,1409.1 621,1408.7 622.5,1408.4 624,1408.1 625.5,1407.8 627,1407.7 628.5,1407.6 630,1407.6 631.5,1407.8 633,1408.1 634.5,1408.4 636,1408.8 637.5,1409.3 639,1409.8 640.5,1410.4 642,1411 643.5,1411.7 645,1412.5 646.5,1413.5 648,1414.6 649.5,1415.8 651,1417 652.5,1418.4 654,1419.8 655.5,1421.4 657,1423.2 658.5,1425.2 660,1427.3 661.5,1429.6 663,1431.9 664.5,1434.3 666,1436.7 667.5,1439.2 669,1441.7 670.5,1444.3 672,1447.1 673.5,1449.9 675,1452.8 676.5,1455.9 678,1459 679.5,1462.3 681,1465.8 682.5,1469.6 684,1473.5 685.5,1477.6 687,1481.7 688.5,1485.8 690,1489.8 691.5,1493.7 693,1497.6 694.5,1501.6 696,1505.6 697.5,1509.5 699,1513.2 700.5,1516.7 702,1519.9 703.5,1523 705,1526 706.5,1528.5 708,1530.5 709.5,1532.1 711,1533.6 712.5,1534.7 714,1535 715.5,1534.6 717,1533.6 718.5,1532.4 720,1531.1 721.5,1529.2 723,1526.9 724.5,1524.4 726,1521.5 727.5,1518 729,1514.1 730.5,1510.1 732,1505.9 733.5,1501.9 735,1498.1 736.5,1494.4 738,1490.6 739.5,1486.8 741,1483.1 742.5,1479.4 744,1475.9 745.5,1472.4 747,1469.2 748.5,1466.1 750,1463.2 751.5,1460.3 753,1457.4 754.5,1454.7 756,1452.1 757.5,1449.6 759,1447.2 760.5,1445 762,1442.7 763.5,1440.6 765,1438.6 766.5,1436.6 768,1434.7 769.5,1432.9 771,1431.2 772.5,1429.6 774,1428.1 775.5,1426.6 777,1425.1 778.5,1423.7 780,1422.3 781.5,1421 783,1419.9 784.5,1418.8 786,1417.9 787.5,1417 789,1416.3 790.5,1415.7 792,1415.1 793.5,1414.5 795,1414 796.5,1413.5 798,1413 799.5,1412.6 801,1412.3 802.5,1412 804,1411.7 805.5,1411.4 807,1411.1 808.5,1410.8 810,1410.6 811.5,1410.4 813,1410.2 814.5,1410.1 816,1410 817.5,1409.9 819,1409.9 820.5,1410 822,1410 823.5,1410.2 825,1410.3 826.5,1410.5 828,1410.7 829.5,1410.9 831,1411.1 832.5,1411.4 834,1411.6 835.5,1411.9 837,1412.2 838.5,1412.6 840,1413.1 841.5,1413.6 843,1414.2 844.5,1414.9 846,1415.6 847.5,1416.4 849,1417.1 850.5,1418 852,1418.8 853.5,1419.6 855,1420.5 856.5,1421.4 858,1422.5 859.5,1423.5 861,1424.7 862.5,1425.8 864,1427.1 865.5,1428.4 867,1429.7 868.5,1431.1 870,1432.5 871.5,1433.9 873,1435.4 874.5,1437 876,1438.7 877.5,1440.5 879,1442.3 880.5,1444.2 882,1446.1 883.5,1448.1 885,1450 886.5,1452 888,1454 889.5,1456 891,1458 892.5,1460.2 894,1462.4 895.5,1464.7 897,1466.9 898.5,1469.1 900,1471.3 901.5,1473.3 903,1475.2 904.5,1477 906,1478.6 907.5,1480.2 909,1481.7 910.5,1483.1 912,1484.6 913.5,1486.1 915,1487.6 916.5,1488.7 918,1489.5 919.5,1490.1 921,1490.3 922.5,1490 924,1489.2 925.5,1488.1 927,1486 928.5,1482.9 930,1478 931.5,1469.3 933,1460.7 934.5,1453 936,1447.4 937.5,1443.7 939,1445 940.5,1450.2 942,1461.2 943.5,1476.7 945,1495.3 946.5,1515.4 948,1538.4 949.5,1561.8 951,1582.8 952.5,1601.6 954,1619.3 955.5,1636.8 957,1654.5 958.5,1672.6 960,1689 960.5,1698.6 961,1702.7 961.5,1707.7 962,1718.2 962.5,1720.2 963,1730.7 963.5,1728.5 964,1742 964.5,1743.6 965,1744.5 965.5,1757 966,1770.8 966.5,1770.1 967,1771.9 967.5,1778.9 968,1775.5 968.5,1803.8 969,1810.8 969.5,1809 970,1814.1 970.5,1807.1 971,1842.1 971.5,1862.4 972,1830.2 972.5,1851.9 973,1901.9 973.5,1837.2 974,1931.5 974.5,1885.8 975,1913.1 975.5,1858.9 976,1925.9 976.5,1931.5 977,1856.1 977.5,1874.2 978,1899 978.5,1882.5 979,1835.9 979.5,1855.9 980,1826.9 980.5,1805 981,1797.1 981.5,1792.5 982,1800.6 982.5,1796.9 983,1775.6 983.5,1775.8 984,1767.3 984.5,1770.1 985,1764.8 985.5,1759.8 986,1747.6 986.5,1750.8 987,1746.9 987.5,1736.1 988,1738.1 988.5,1730.3 989,1730.6 989.5,1727.1 990,1726.5 990.5,1722.9 991,1721 991.5,1717.4 992,1712.3 992.5,1712.3 993,1710.5 993.5,1708.1 994,1710.7 994.5,1707 995,1703.7 995.5,1698.1 996,1697.7 996.5,1694.9 997,1695.2 997.5,1691.6 998,1692.1 998.5,1688 999,1685.9 999.5,1686 1000,1685.4 1000.5,1682.7 1001,1680.1 1001.5,1681.1 1002,1678.8 1002.5,1680.6 1003,1676.9 1003.5,1677.2 1004,1674.2 1004.5,1675.3 1005,1673 1005.5,1672.6 1006,1669.6 1006.5,1669.3 1007,1671.7 1007.5,1667.6 1008,1667.4 1008.5,1669.3 1009,1666 1009.5,1664.7 1010,1666.5 1010.5,1664.9 1011,1665.9 1011.5,1664.5 1012,1663.6 1012.5,1663.3 1013,1663.9 1013.5,1660.6 1014,1663.9 1014.5,1663 1015,1662.3 1015.5,1662.2 1016,1662.6 1016.5,1661.1 1017,1661.4 1017.5,1660.8 1018,1661.4 1018.5,1658.5 1019,1658.5 1019.5,1661 1020,1660.8 1020.5,1658.3 1021,1659.5 1021.5,1659 1022,1658.4 1022.5,1656.7 1023,1659.3 1023.5,1658.4 1024,1656.9 1024.5,1657.3 1025,1658 1025.5,1657.4 1026,1658.9 1026.5,1657.8 1027,1656.6 1027.5,1658.8 1028,1657.2 1028.5,1658.2 1029,1658.2 1029.5,1657.8 1030,1658.1 1030.5,1658.5 1031,1658 1031.5,1656.5 1032,1657.2 1032.5,1656.7 1033,1656.6 1033.5,1657.1 1034,1659.1 1034.5,1658.6 1035,1659.1 1035.5,1657.8 1036,1658.4 1036.5,1658.6 1037,1658 1037.5,1660.5 1038,1660.6 1038.5,1659.5 1039,1659.1 1039.5,1662.4 1040,1659.4 1040.5,1662 1041,1662.1 1041.5,1661.3 1042,1660.6 1042.5,1664 1043,1662.8 1043.5,1661.9 1044,1663.4 1044.5,1663.3 1045,1663.2 1045.5,1664 1046,1666.8 1046.5,1663.9 1047,1666.9 1047.5,1666.7 1048,1665.7 1048.5,1668.2 1049,1668.5 1049.5,1668.4 1050,1670.1 1050.5,1671.1 1051,1670.7 1051.5,1672.9 1052,1672.7 1052.5,1674.2 1053,1675.3 1053.5,1672.3 1054,1673.6 1054.5,1673.7 1055,1676.8 1055.5,1678.2 1056,1675.9 1056.5,1679.5 1057,1679.3 1057.5,1679.1 1058,1681.7 1058.5,1681 1059,1680.2 1059.5,1681.9 1060,1683.9 1060.5,1685.6 1061,1684.7 1061.5,1685.2 1062,1686.9 1062.5,1686.9 1063,1687.6 1063.5,1689.6 1064,1685.8 1064.5,1686.9 1065,1688.5 1065.5,1691 1066,1689.9 1066.5,1691.5 1067,1692.9 1067.5,1692.9 1068,1691.6 1068.5,1693.5 1069,1691.7 1069.5,1690.4 1070,1691.1 1070.5,1690.1 1071,1689.8 1071.5,1690.3 1072,1691.4 1072.5,1692.5 1073,1693 1073.5,1690.6 1074,1691.6 1074.5,1691 1075,1689.2 1075.5,1688 1076,1683.7 1076.5,1686.9 1077,1683.1 1077.5,1684.5 1078,1678.4 1078.5,1679.4 1079,1675.2 1079.5,1671.6 1080,1667 1080.5,1664.6 1081,1661.7 1081.5,1656.1 1082,1654.3 1082.5,1647.9 1083,1644.3 1083.5,1641.1 1084,1633.6 1084.5,1628.6 1085,1624.6 1085.5,1617.7 1086,1613.5 1086.5,1607.6 1087,1603.7 1087.5,1599.1 1088,1593.8 1088.5,1588.2 1089,1584.3 1089.5,1582.3 1090,1582.9 1090.5,1585.7 1091,1589 1091.5,1592.2 1092,1596.7 1092.5,1602.7 1093,1609.4 1093.5,1617.3 1094,1624.4 1094.5,1635.4 1095,1646.4 1095.5,1656.9 1096,1667.7 1096.5,1677.8 1097,1689.4 1097.5,1696.8 1098,1701.8 1098.5,1715.8 1099,1718 1099.5,1730.8 1100,1737.6 1100.5,1737.2 1100.9,1749.2 1101.4,1747.7 1101.8,1772.7 1102.3,1766.5 1102.7,1787.9 1103.2,1780.7 1103.6,1778.2 1104.1,1812.6 1104.5,1817 1105,1789.4 1105.4,1798 1105.9,1813.8 1106.3,1817.2 1106.8,1868.9 1107.2,1832.4 1107.7,1802.6 1108.1,1852.1 1108.6,1931.5 1109,1803.6 1109.5,1818.7 1109.9,1931.5 1110.4,1880.8 1110.8,1931.5 1111.3,1813.4 1111.7,1840.6 1112.2,1809.7 1112.6,1874.9 1113.1,1804.4 1113.5,1931.5 1114,1931.5 1114.4,1820.9 1114.9,1849.1 1115.3,1809.4 1115.8,1898.3 1116.2,1931.5 1116.7,1870.1 1117.1,1931.5 1117.6,1931.5 1118,1931.5 1118.5,1931.5 1118.9,1876.7 1119.4,1847.7 1119.8,1814.9 1120.3,1931.5 1120.7,1931.5 1121.2,1893.9 1121.6,1872 1122.1,1931.5 1122.5,1818.6 1123,1924.3 1123.4,1798.6 1123.9,1830.2 1124.3,1931.5 1124.8,1804 1125.2,1858.8 1125.7,1812.3 1126.1,1819.9 1126.6,1896.4 1127,1848.4 1127.5,1931.5 1127.9,1931.5 1128.4,1877.4 1128.8,1800.2 1129.3,1815.8 1129.7,1812.7 1130.2,1856.4 1130.6,1796.3 1131.1,1833.4 1131.5,1828.4 1132,1800.5 1132.4,1900.7 1132.9,1904.7 1133.3,1834.6 1133.8,1834.8" fill="none" stroke="#020ec4" stroke-width="6.4" stroke-linejoin="round" clip-path="url(#cc)"/>
<line x1="191" y1="1149" x2="1134.9" y2="1149" stroke="#000" stroke-width="5.9"/>
<line x1="191" y1="1901.4" x2="1134.9" y2="1901.4" stroke="#000" stroke-width="6.8"/>
<line x1="194" y1="1146" x2="194" y2="1904.8" stroke="#000" stroke-width="6"/>
<line x1="1131.5" y1="1146" x2="1131.5" y2="1904.8" stroke="#000" stroke-width="6.8"/>
<line x1="178.8" y1="1148.7" x2="194.6" y2="1148.7" stroke="#000" stroke-width="6.6"/>
<text transform="translate(170.5,1161.4)" font-size="44" text-anchor="end">-20</text>
<line x1="178.8" y1="1299.3" x2="194.6" y2="1299.3" stroke="#000" stroke-width="6.6"/>
<text transform="translate(170.5,1312)" font-size="44" text-anchor="end">-30</text>
<line x1="178.8" y1="1449.8" x2="194.6" y2="1449.8" stroke="#000" stroke-width="6.6"/>
<text transform="translate(170.5,1462.5)" font-size="44" text-anchor="end">-40</text>
<line x1="178.8" y1="1600.4" x2="194.6" y2="1600.4" stroke="#000" stroke-width="6.6"/>
<text transform="translate(170.5,1613.1)" font-size="44" text-anchor="end">-50</text>
<line x1="178.8" y1="1750.9" x2="194.6" y2="1750.9" stroke="#000" stroke-width="6.6"/>
<text transform="translate(170.5,1763.6)" font-size="44" text-anchor="end">-60</text>
<line x1="178.8" y1="1901.5" x2="194.6" y2="1901.5" stroke="#000" stroke-width="6.6"/>
<text transform="translate(170.5,1914.2)" font-size="44" text-anchor="end">-70</text>
<line x1="350.8" y1="1901.5" x2="350.8" y2="1916.3" stroke="#000" stroke-width="6.6"/>
<text transform="translate(350.8,1959.3)" font-size="44" text-anchor="middle">1560</text>
<line x1="574" y1="1901.5" x2="574" y2="1916.3" stroke="#000" stroke-width="6.6"/>
<text transform="translate(574,1959.3)" font-size="44" text-anchor="middle">1570</text>
<line x1="797.2" y1="1901.5" x2="797.2" y2="1916.3" stroke="#000" stroke-width="6.6"/>
<text transform="translate(797.2,1959.3)" font-size="44" text-anchor="middle">1580</text>
<line x1="1020.3" y1="1901.5" x2="1020.3" y2="1916.3" stroke="#000" stroke-width="6.6"/>
<text transform="translate(1020.3,1959.3)" font-size="44" text-anchor="middle">1590</text>
<text transform="translate(662.7,2029.3)" font-size="64" text-anchor="middle">Wavelength (nm)</text>
<text transform="translate(74.2,1500.3) rotate(-90) scale(0.996,1)" font-size="64" text-anchor="middle">Intensity (dBm)</text>
<text transform="translate(17,1154.2)" font-size="64" text-anchor="start">(c)</text>
<text transform="translate(255.5,1257.1) scale(0.992,1)" font-size="43" text-anchor="start">Output 2</text>
<text transform="translate(527.3,1622.9) scale(0.995,1)" font-size="43.5" text-anchor="start">λ<tspan font-size="30" dy="12">c</tspan><tspan dy="-12">=1572 nm</tspan></text>
<text transform="translate(527.3,1689.9) scale(0.995,1)" font-size="43.5" text-anchor="start">Δλ=27.6 nm</text>
</g>
<g id="panel-d">
<polyline points="1374.3,1878.6 1376.7,1878.4 1379.1,1878.2 1381.4,1878 1383.8,1877.8 1386.2,1877.6 1388.5,1877.4 1390.9,1877.2 1393.3,1877 1395.6,1876.7 1398,1876.5 1400.3,1876.3 1402.7,1876.1 1405.1,1875.8 1407.4,1875.6 1409.8,1875.4 1412.2,1875.3 1414.5,1875.1 1416.9,1875 1419.3,1875 1421.6,1875 1424,1875.1 1426.4,1875.2 1428.7,1875.5 1431.1,1875.7 1433.5,1876.1 1435.8,1876.6 1438.2,1877.2 1440.5,1877.8 1442.9,1878.6 1445.3,1879.4 1447.6,1880.3 1450,1881.4 1452.4,1882.6 1454.7,1883.7 1457.1,1884.9 1459.5,1886 1461.8,1887 1464.2,1887.9 1466.6,1888.5 1468.9,1888.8 1471.3,1888.9 1473.7,1888.6 1476,1888.1 1478.4,1887.5 1480.7,1886.6 1483.1,1885.7 1485.5,1884.7 1487.8,1883.6 1490.2,1882.6 1492.6,1881.6 1494.9,1880.7 1497.3,1880 1499.7,1879.4 1502,1879.1 1504.4,1879 1506.8,1879.2 1509.1,1879.6 1511.5,1880.2 1513.9,1881.1 1516.2,1882 1518.6,1883.1 1520.9,1884.2 1523.3,1885.3 1525.7,1886.5 1528,1887.6 1530.4,1888.6 1532.8,1889.5 1535.1,1890.3 1537.5,1890.9 1539.9,1891.3 1542.2,1891.4 1544.6,1891.3 1547,1890.8 1549.3,1890.1 1551.7,1889.1 1554,1887.9 1556.4,1886.6 1558.8,1885.2 1561.1,1883.6 1563.5,1882.1 1565.9,1880.5 1568.2,1879 1570.6,1877.6 1573,1876.3 1575.3,1875.2 1577.7,1874.2 1580.1,1873.5 1582.4,1873.1 1584.8,1873.1 1587.2,1873.4 1589.5,1874 1591.9,1874.9 1594.2,1876.1 1596.6,1877.4 1599,1878.9 1601.3,1880.4 1603.7,1882 1606.1,1883.5 1608.4,1884.9 1610.8,1886.2 1613.2,1887.3 1615.5,1888.1 1617.9,1888.7 1620.3,1888.8 1622.6,1888.6 1625,1887.9 1627.4,1887 1629.7,1885.7 1632.1,1884.2 1634.4,1882.5 1636.8,1880.5 1639.2,1878.4 1641.5,1876.3 1643.9,1874 1646.3,1871.8 1648.6,1869.6 1651,1867.6 1653.4,1865.8 1655.7,1864.2 1658.1,1863 1660.5,1862.2 1662.8,1861.9 1665.2,1862.2 1667.5,1862.9 1669.9,1864.1 1672.3,1865.6 1674.6,1867.5 1677,1869.7 1679.4,1872 1681.7,1874.5 1684.1,1877.1 1686.5,1879.7 1688.8,1882.1 1691.2,1884.3 1693.6,1886.2 1695.9,1887.6 1698.3,1888.5 1700.7,1888.8 1703,1888.3 1705.4,1886.9 1707.7,1884.5 1710.1,1880.9 1712.5,1875.9 1714.8,1869.4 1717.2,1861.4 1719.6,1851.6 1721.9,1840 1724.3,1826.5 1726.7,1811.2 1729,1794.7 1731.4,1777.5 1733.8,1759.9 1736.1,1742.1 1738.5,1724.2 1740.9,1706.4 1743.2,1689.2 1745.6,1673 1747.9,1658.2 1750.3,1644.7 1752.7,1632 1755,1620.1 1757.4,1608.5 1759.8,1597.2 1762.1,1586.4 1764.5,1576.4 1766.9,1567.3 1769.2,1559.4 1771.6,1552.5 1774,1546.2 1776.3,1540.2 1778.7,1534.6 1781.1,1529.1 1783.4,1523.9 1785.8,1518.7 1788.1,1513.6 1790.5,1508.5 1792.9,1503.1 1795.2,1497.3 1797.6,1490.8 1800,1483.4 1802.3,1475 1804.7,1465.2 1807.1,1453.8 1809.4,1440.7 1811.8,1425.8 1814.2,1409.7 1816.5,1392.8 1818.9,1375.7 1821.2,1358.8 1823.6,1342.4 1826,1326.7 1828.3,1311.8 1830.7,1298 1833.1,1285.2 1835.4,1273.4 1837.8,1262.5 1840.2,1252.3 1842.5,1242.9 1844.9,1234.6 1847.3,1227.7 1849.6,1222.6 1852,1219.3 1854.4,1218.1 1856.7,1219.1 1859.1,1222.5 1861.4,1228.7 1863.8,1237.6 1866.2,1248.1 1868.5,1259 1870.9,1269.9 1873.3,1281.1 1875.6,1293 1878,1306.1 1880.4,1320.6 1882.7,1336.2 1885.1,1352.8 1887.5,1369.9 1889.8,1387.3 1892.2,1404.4 1894.6,1420.8 1896.9,1436 1899.3,1449.5 1901.6,1461.1 1904,1471 1906.4,1479.7 1908.7,1487.5 1911.1,1494.5 1913.5,1500.9 1915.8,1506.8 1918.2,1512.1 1920.6,1517 1922.9,1521.6 1925.3,1526.1 1927.7,1530.6 1930,1535.3 1932.4,1540.2 1934.7,1545.5 1937.1,1551.4 1939.5,1558.1 1941.8,1565.9 1944.2,1574.9 1946.6,1584.9 1948.9,1595.9 1951.3,1607.5 1953.7,1619.6 1956,1632.3 1958.4,1645.8 1960.8,1660.2 1963.1,1675.5 1965.5,1691.6 1967.9,1708.3 1970.2,1725.2 1972.6,1742 1974.9,1758.8 1977.3,1775.6 1979.7,1792.2 1982,1808.5 1984.4,1824 1986.8,1838 1989.1,1850.2 1991.5,1860.6 1993.9,1869.3 1996.2,1876.7 1998.6,1883.1 2001,1888.4 2003.3,1892.5 2005.7,1895.6 2008.1,1897.4 2010.4,1897.7 2012.8,1896.7 2015.1,1894.6 2017.5,1892 2019.9,1889.1 2022.2,1886.2 2024.6,1883.2 2027,1880.2 2029.3,1877.2 2031.7,1874.4 2034.1,1871.8 2036.4,1869.5 2038.8,1867.5 2041.2,1865.9 2043.5,1864.8 2045.9,1864.2 2048.3,1864.3 2050.6,1864.8 2053,1865.8 2055.3,1867.2 2057.7,1869 2060.1,1871 2062.4,1873.2 2064.8,1875.6 2067.2,1878 2069.5,1880.5 2071.9,1882.9 2074.3,1885.2 2076.6,1887.3 2079,1889.2 2081.4,1890.7 2083.7,1891.9 2086.1,1892.7 2088.4,1893 2090.8,1892.8 2093.2,1892.2 2095.5,1891.2 2097.9,1889.9 2100.3,1888.4 2102.6,1886.8 2105,1885.1 2107.4,1883.5 2109.7,1881.9 2112.1,1880.4 2114.5,1879.1 2116.8,1878 2119.2,1877.1 2121.6,1876.5 2123.9,1876.3 2126.3,1876.4 2128.6,1876.8 2131,1877.6 2133.4,1878.6 2135.7,1879.8 2138.1,1881.2 2140.5,1882.6 2142.8,1884.1 2145.2,1885.6 2147.6,1887.1 2149.9,1888.5 2152.3,1889.7 2154.7,1890.9 2157,1891.8 2159.4,1892.6 2161.8,1893.1 2164.1,1893.3 2166.5,1893.3 2168.8,1892.9 2171.2,1892.4 2173.6,1891.6 2175.9,1890.7 2178.3,1889.7 2180.7,1888.6 2183,1887.5 2185.4,1886.3 2187.8,1885.3 2190.1,1884.2 2192.5,1883.3 2194.9,1882.5 2197.2,1881.9 2199.6,1881.5 2201.9,1881.3 2204.3,1881.4 2206.7,1881.8 2209,1882.3 2211.4,1883 2213.8,1883.9 2216.1,1884.9 2218.5,1886 2220.9,1887.2 2223.2,1888.3 2225.6,1889.5 2228,1890.6 2230.3,1891.6 2232.7,1892.5 2235.1,1893.4 2237.4,1894.1 2239.8,1894.8 2242.1,1895.4 2244.5,1895.9 2246.9,1896.4 2249.2,1896.7 2251.6,1897.1 2254,1897.3 2256.3,1897.5 2258.7,1897.7 2261.1,1897.8 2263.4,1897.9 2265.8,1898 2268.2,1898 2270.5,1897.9 2272.9,1897.8 2275.3,1897.7 2277.6,1897.6 2280,1897.3 2282.3,1897.1 2284.7,1896.8 2287.1,1896.4 2289.4,1896 2291.8,1895.5 2294.2,1895 2296.5,1894.4 2298.9,1893.8 2301.3,1893.2 2303.6,1892.5 2306,1891.9 2308.4,1891.2 2310.7,1890.5 2313.1,1889.9 2315.4,1889.3 2317.8,1888.7 2320.2,1888.2 2322.5,1887.7 2324.9,1887.4 2327.3,1887.1" fill="none" stroke="#000" stroke-width="6.6" stroke-linejoin="round" clip-path="url(#cd)"/>
<polyline points="1374.3,1889.2 1376.7,1889.2 1379.1,1889.2 1381.4,1889.2 1383.8,1889.2 1386.2,1889.2 1388.5,1889.2 1390.9,1889.2 1393.3,1889.2 1395.6,1889.2 1398,1889.2 1400.3,1889.2 1402.7,1889.2 1405.1,1889.2 1407.4,1889.2 1409.8,1889.2 1412.2,1889.2 1414.5,1889.1 1416.9,1889.1 1419.3,1889.1 1421.6,1889.1 1424,1889.1 1426.4,1889.1 1428.7,1889.1 1431.1,1889.1 1433.5,1889.1 1435.8,1889.1 1438.2,1889.1 1440.5,1889.1 1442.9,1889.1 1445.3,1889.1 1447.6,1889.1 1450,1889 1452.4,1889 1454.7,1889 1457.1,1889 1459.5,1889 1461.8,1889 1464.2,1889 1466.6,1889 1468.9,1888.9 1471.3,1888.9 1473.7,1888.9 1476,1888.9 1478.4,1888.9 1480.7,1888.9 1483.1,1888.8 1485.5,1888.8 1487.8,1888.8 1490.2,1888.8 1492.6,1888.7 1494.9,1888.7 1497.3,1888.7 1499.7,1888.6 1502,1888.6 1504.4,1888.6 1506.8,1888.5 1509.1,1888.5 1511.5,1888.5 1513.9,1888.4 1516.2,1888.4 1518.6,1888.3 1520.9,1888.3 1523.3,1888.2 1525.7,1888.2 1528,1888.1 1530.4,1888 1532.8,1888 1535.1,1887.9 1537.5,1887.8 1539.9,1887.7 1542.2,1887.6 1544.6,1887.6 1547,1887.5 1549.3,1887.4 1551.7,1887.3 1554,1887.1 1556.4,1887 1558.8,1886.9 1561.1,1886.8 1563.5,1886.6 1565.9,1886.5 1568.2,1886.3 1570.6,1886.1 1573,1886 1575.3,1885.8 1577.7,1885.6 1580.1,1885.4 1582.4,1885.1 1584.8,1884.9 1587.2,1884.7 1589.5,1884.4 1591.9,1884.1 1594.2,1883.8 1596.6,1883.5 1599,1883.2 1601.3,1882.8 1603.7,1882.5 1606.1,1882.1 1608.4,1881.7 1610.8,1881.3 1613.2,1880.8 1615.5,1880.3 1617.9,1879.8 1620.3,1879.3 1622.6,1878.7 1625,1878.1 1627.4,1877.5 1629.7,1876.8 1632.1,1876.1 1634.4,1875.3 1636.8,1874.5 1639.2,1873.7 1641.5,1872.8 1643.9,1871.9 1646.3,1870.9 1648.6,1869.9 1651,1868.8 1653.4,1867.6 1655.7,1866.4 1658.1,1865.1 1660.5,1863.7 1662.8,1862.3 1665.2,1860.8 1667.5,1859.2 1669.9,1857.5 1672.3,1855.7 1674.6,1853.8 1677,1851.8 1679.4,1849.7 1681.7,1847.5 1684.1,1845.2 1686.5,1842.8 1688.8,1840.2 1691.2,1837.5 1693.6,1834.6 1695.9,1831.6 1698.3,1828.5 1700.7,1825.1 1703,1821.7 1705.4,1818 1707.7,1814.1 1710.1,1810.1 1712.5,1805.8 1714.8,1801.4 1717.2,1796.7 1719.6,1791.8 1721.9,1786.6 1724.3,1781.2 1726.7,1775.6 1729,1769.7 1731.4,1763.5 1733.8,1757 1736.1,1750.3 1738.5,1743.3 1740.9,1735.9 1743.2,1728.3 1745.6,1720.3 1747.9,1712.1 1750.3,1703.5 1752.7,1694.6 1755,1685.3 1757.4,1675.7 1759.8,1665.8 1762.1,1655.5 1764.5,1645 1766.9,1634.1 1769.2,1622.9 1771.6,1611.3 1774,1599.5 1776.3,1587.4 1778.7,1575 1781.1,1562.4 1783.4,1549.5 1785.8,1536.4 1788.1,1523.1 1790.5,1509.7 1792.9,1496.2 1795.2,1482.5 1797.6,1468.9 1800,1455.2 1802.3,1441.5 1804.7,1428 1807.1,1414.5 1809.4,1401.3 1811.8,1388.3 1814.2,1375.5 1816.5,1363.2 1818.9,1351.2 1821.2,1339.7 1823.6,1328.7 1826,1318.3 1828.3,1308.5 1830.7,1299.4 1833.1,1291 1835.4,1283.4 1837.8,1276.6 1840.2,1270.7 1842.5,1265.7 1844.9,1261.6 1847.3,1258.5 1849.6,1256.3 1852,1255.2 1854.4,1255 1856.7,1255.8 1859.1,1257.7 1861.4,1260.5 1863.8,1264.2 1866.2,1268.9 1868.5,1274.5 1870.9,1281 1873.3,1288.4 1875.6,1296.5 1878,1305.4 1880.4,1314.9 1882.7,1325.1 1885.1,1336 1887.5,1347.3 1889.8,1359.1 1892.2,1371.4 1894.6,1384 1896.9,1396.9 1899.3,1410.1 1901.6,1423.5 1904,1437 1906.4,1450.6 1908.7,1464.3 1911.1,1478 1913.5,1491.6 1915.8,1505.2 1918.2,1518.7 1920.6,1532 1922.9,1545.1 1925.3,1558.1 1927.7,1570.8 1930,1583.3 1932.4,1595.5 1934.7,1607.4 1937.1,1619 1939.5,1630.4 1941.8,1641.4 1944.2,1652.1 1946.6,1662.4 1948.9,1672.4 1951.3,1682.1 1953.7,1691.5 1956,1700.5 1958.4,1709.2 1960.8,1717.6 1963.1,1725.7 1965.5,1733.4 1967.9,1740.9 1970.2,1748 1972.6,1754.8 1974.9,1761.4 1977.3,1767.6 1979.7,1773.6 1982,1779.4 1984.4,1784.8 1986.8,1790.1 1989.1,1795.1 1991.5,1799.8 1993.9,1804.4 1996.2,1808.7 1998.6,1812.8 2001,1816.7 2003.3,1820.5 2005.7,1824 2008.1,1827.4 2010.4,1830.6 2012.8,1833.6 2015.1,1836.6 2017.5,1839.3 2019.9,1841.9 2022.2,1844.4 2024.6,1846.8 2027,1849 2029.3,1851.1 2031.7,1853.2 2034.1,1855.1 2036.4,1856.9 2038.8,1858.6 2041.2,1860.2 2043.5,1861.8 2045.9,1863.2 2048.3,1864.6 2050.6,1866 2053,1867.2 2055.3,1868.4 2057.7,1869.5 2060.1,1870.6 2062.4,1871.6 2064.8,1872.5 2067.2,1873.4 2069.5,1874.3 2071.9,1875.1 2074.3,1875.8 2076.6,1876.6 2079,1877.2 2081.4,1877.9 2083.7,1878.5 2086.1,1879.1 2088.4,1879.6 2090.8,1880.2 2093.2,1880.6 2095.5,1881.1 2097.9,1881.5 2100.3,1882 2102.6,1882.4 2105,1882.7 2107.4,1883.1 2109.7,1883.4 2112.1,1883.7 2114.5,1884 2116.8,1884.3 2119.2,1884.6 2121.6,1884.8 2123.9,1885.1 2126.3,1885.3 2128.6,1885.5 2131,1885.7 2133.4,1885.9 2135.7,1886.1 2138.1,1886.3 2140.5,1886.4 2142.8,1886.6 2145.2,1886.7 2147.6,1886.8 2149.9,1887 2152.3,1887.1 2154.7,1887.2 2157,1887.3 2159.4,1887.4 2161.8,1887.5 2164.1,1887.6 2166.5,1887.7 2168.8,1887.8 2171.2,1887.9 2173.6,1887.9 2175.9,1888 2178.3,1888.1 2180.7,1888.1 2183,1888.2 2185.4,1888.3 2187.8,1888.3 2190.1,1888.4 2192.5,1888.4 2194.9,1888.4 2197.2,1888.5 2199.6,1888.5 2201.9,1888.6 2204.3,1888.6 2206.7,1888.6 2209,1888.7 2211.4,1888.7 2213.8,1888.7 2216.1,1888.8 2218.5,1888.8 2220.9,1888.8 2223.2,1888.8 2225.6,1888.9 2228,1888.9 2230.3,1888.9 2232.7,1888.9 2235.1,1888.9 2237.4,1888.9 2239.8,1889 2242.1,1889 2244.5,1889 2246.9,1889 2249.2,1889 2251.6,1889 2254,1889 2256.3,1889 2258.7,1889.1 2261.1,1889.1 2263.4,1889.1 2265.8,1889.1 2268.2,1889.1 2270.5,1889.1 2272.9,1889.1 2275.3,1889.1 2277.6,1889.1 2280,1889.1 2282.3,1889.1 2284.7,1889.1 2287.1,1889.1 2289.4,1889.1 2291.8,1889.1 2294.2,1889.2 2296.5,1889.2 2298.9,1889.2 2301.3,1889.2 2303.6,1889.2 2306,1889.2 2308.4,1889.2 2310.7,1889.2 2313.1,1889.2 2315.4,1889.2 2317.8,1889.2 2320.2,1889.2 2322.5,1889.2 2324.9,1889.2 2327.3,1889.2" fill="none" stroke="#ff0000" stroke-width="6.6" stroke-linejoin="round" stroke-dasharray="8.6 14.8" stroke-linecap="round" stroke-dashoffset="3" clip-path="url(#cd)"/>
<line x1="1375" y1="1151.9" x2="2327" y2="1151.9" stroke="#000" stroke-width="4"/>
<line x1="1375" y1="1909" x2="2327" y2="1909" stroke="#000" stroke-width="5.8"/>
<line x1="1378" y1="1149.9" x2="1378" y2="1911.9" stroke="#000" stroke-width="6.1"/>
<line x1="2323.5" y1="1149.9" x2="2323.5" y2="1911.9" stroke="#000" stroke-width="7"/>
<line x1="1362.6" y1="1901.5" x2="1378.3" y2="1901.5" stroke="#000" stroke-width="6.3"/>
<text transform="translate(1354.5,1914.2)" font-size="44" text-anchor="end">0.0</text>
<line x1="1362.6" y1="1765.1" x2="1378.3" y2="1765.1" stroke="#000" stroke-width="6.3"/>
<text transform="translate(1354.5,1777.8)" font-size="44" text-anchor="end">0.2</text>
<line x1="1362.6" y1="1628.7" x2="1378.3" y2="1628.7" stroke="#000" stroke-width="6.3"/>
<text transform="translate(1354.5,1641.4)" font-size="44" text-anchor="end">0.4</text>
<line x1="1362.6" y1="1492.3" x2="1378.3" y2="1492.3" stroke="#000" stroke-width="6.3"/>
<text transform="translate(1354.5,1505)" font-size="44" text-anchor="end">0.6</text>
<line x1="1362.6" y1="1355.9" x2="1378.3" y2="1355.9" stroke="#000" stroke-width="6.3"/>
<text transform="translate(1354.5,1368.6)" font-size="44" text-anchor="end">0.8</text>
<line x1="1362.6" y1="1219.5" x2="1378.3" y2="1219.5" stroke="#000" stroke-width="6.3"/>
<text transform="translate(1354.5,1232.2)" font-size="44" text-anchor="end">1.0</text>
<line x1="1378.3" y1="1908.8" x2="1378.3" y2="1924" stroke="#000" stroke-width="6.3"/>
<text transform="translate(1378.3,1967.6)" font-size="44" text-anchor="middle">-6</text>
<line x1="1535.9" y1="1908.8" x2="1535.9" y2="1924" stroke="#000" stroke-width="6.3"/>
<text transform="translate(1535.9,1967.6)" font-size="44" text-anchor="middle">-4</text>
<line x1="1693.6" y1="1908.8" x2="1693.6" y2="1924" stroke="#000" stroke-width="6.3"/>
<text transform="translate(1693.6,1967.6)" font-size="44" text-anchor="middle">-2</text>
<line x1="1851.2" y1="1908.8" x2="1851.2" y2="1924" stroke="#000" stroke-width="6.3"/>
<text transform="translate(1851.2,1967.6)" font-size="44" text-anchor="middle">0</text>
<line x1="2008.8" y1="1908.8" x2="2008.8" y2="1924" stroke="#000" stroke-width="6.3"/>
<text transform="translate(2008.8,1967.6)" font-size="44" text-anchor="middle">2</text>
<line x1="2166.5" y1="1908.8" x2="2166.5" y2="1924" stroke="#000" stroke-width="6.3"/>
<text transform="translate(2166.5,1967.6)" font-size="44" text-anchor="middle">4</text>
<line x1="2324.1" y1="1908.8" x2="2324.1" y2="1924" stroke="#000" stroke-width="6.3"/>
<text transform="translate(2324.1,1967.6)" font-size="44" text-anchor="middle">6</text>
<text transform="translate(1851.7,2036.5)" font-size="64" text-anchor="middle">Time (ps)</text>
<text transform="translate(1266.4,1510) rotate(-90)" font-size="64" text-anchor="middle">Intensity (a.u.)</text>
<text transform="translate(1178.6,1154.2)" font-size="64" text-anchor="start">(d)</text>
<text transform="translate(1424.5,1257.1) scale(0.992,1)" font-size="43" text-anchor="start">Output 2</text>
<line x1="1990.4" y1="1199.7" x2="2080" y2="1199.7" stroke="#000" stroke-width="6" stroke-linecap="round"/>
<line x1="1990.2" y1="1254.2" x2="2070" y2="1254.2" stroke="#ff0000" stroke-width="5.5" stroke-dasharray="9.3 14.2" stroke-linecap="round"/>
<text transform="translate(2090.8,1214.2) scale(1.030,1)" font-size="38" text-anchor="start">Experiment</text>
<text transform="translate(2090.8,1268.8) scale(1.030,1)" font-size="38" text-anchor="start">Sech<tspan font-size="27" dy="-15">2</tspan><tspan dy="15"> fitting</tspan></text>
<line x1="1656.3" y1="1561.7" x2="1750.6" y2="1561.7" stroke="#000" stroke-width="6"/>
<polygon points="1776.2,1561.7 1744.2,1553.2 1744.2,1570.2" fill="#000"/>
<line x1="2048.9" y1="1561.7" x2="1954" y2="1561.7" stroke="#000" stroke-width="6"/>
<polygon points="1928.4,1561.7 1960.4,1553.2 1960.4,1570.2" fill="#000"/>
<text transform="translate(1973.5,1533.9) scale(1.020,1)" font-size="43.5" text-anchor="start">1.54×1.26 ps</text>
</g>
<g id="panel-e">
<polyline points="189.8,2848.1 191.8,2850.4 193.8,2853.9 195.8,2850 197.8,2848.3 199.8,2852.9 201.8,2852.6 203.8,2848.1 205.8,2850.5 206.9,2850.9 209.3,2848.4 210.3,2838.3 211.3,2788.2 212.3,2717.9 213.1,2627.6 213.7,2527.2 214.2,2401.8 214.9,2326.5 215.7,2401.8 216.4,2527.2 217,2637.6 217.7,2738 218.6,2828.3 219.5,2878.5 220.3,2918.6 220.9,2937.2 221.5,2913.6 222.3,2868.4 223.5,2838.3 225.1,2815.8 226.4,2810.7 227.7,2820.8 229.4,2835.8 231.4,2845.9 233.6,2850.9 235.4,2850.8 237.2,2853 239,2851.4 240.8,2850.8 242.6,2848.5 244.4,2849.5 246.2,2850.8 248,2852.1 249.8,2852 251.6,2849.2 253.4,2847.4 255.2,2851.4 257,2854.3 258.8,2850.9 260.6,2848.9 262.4,2849 264.2,2851.6 266,2851.6 267.8,2850 269.6,2849.7 271.4,2850.9 273.2,2847.1 275,2846.4 276.8,2850.3 278.6,2856.8 280.4,2857.2 282.2,2850.4 284,2846.5 285.8,2844.6 287.6,2846.3 289.4,2853.4 291.2,2857.5 293,2857.3 294.8,2848.4 296.6,2844.1 298.4,2841.5 300.2,2848.9 302,2855.2 303.8,2856.1 305.6,2857.4 307.4,2848.9 309.2,2848.3 311,2847.2 312.8,2852.4 314.6,2851.2 316.4,2851 318.2,2852.7 319.4,2850.9 321.8,2848.4 322.8,2838.3 323.8,2788.2 324.8,2717.9 325.6,2627.6 326.2,2527.2 326.7,2401.8 327.4,2326.5 328.2,2401.8 328.9,2527.2 329.5,2637.6 330.2,2738 331.1,2828.3 332,2878.5 332.8,2918.6 333.4,2937.2 334,2913.6 334.8,2868.4 336,2838.3 337.6,2815.8 338.9,2810.7 340.2,2820.8 341.9,2835.8 343.9,2845.9 346.1,2850.9 347.9,2848.1 349.7,2851 351.5,2849 353.2,2851.6 355.1,2852.4 356.9,2848.7 358.7,2849.6 360.5,2849.1 362.2,2853.5 364.1,2851.5 365.9,2849.8 367.7,2851 369.5,2852.2 371.2,2851.8 373.1,2849.3 374.9,2849.5 376.7,2851.3 378.5,2851.5 380.3,2850.7 382.1,2853.9 383.9,2851.7 385.7,2847.7 387.5,2846.7 389.3,2850.7 391.1,2854.9 392.9,2858.4 394.7,2854.7 396.5,2846.5 398.3,2843.1 400.1,2847.4 401.9,2851.7 403.7,2856 405.5,2857.8 407.3,2852.2 409.1,2845.1 410.9,2842.2 412.7,2848.8 414.5,2855.7 416.3,2859 418.1,2855.3 419.9,2848.9 421.7,2846.8 423.5,2847.5 425.3,2848.3 427.1,2851.5 428.9,2849.7 430.7,2850.5 431.8,2850.9 434.2,2848.4 435.2,2838.3 436.2,2788.2 437.2,2717.9 438,2627.6 438.6,2527.2 439.1,2401.8 439.8,2326.5 440.6,2401.8 441.3,2527.2 441.9,2637.6 442.6,2738 443.5,2828.3 444.4,2878.5 445.2,2918.6 445.8,2937.2 446.4,2913.6 447.2,2868.4 448.4,2838.3 450,2815.8 451.3,2810.7 452.6,2820.8 454.3,2835.8 456.3,2845.9 458.5,2850.9 460.3,2847.5 462.1,2851.8 463.9,2851.2 465.7,2850.7 467.5,2852.4 469.3,2849.2 471.1,2849 472.9,2854 474.7,2852.2 476.5,2847.8 478.3,2849.6 480.1,2852.3 481.9,2855.6 483.7,2851.1 485.5,2850.7 487.3,2849.5 489.1,2850.7 490.9,2850.2 492.7,2851.7 494.5,2850.1 496.3,2851.2 498.1,2849.4 499.9,2847.2 501.7,2850.2 503.5,2857.1 505.3,2857.5 507.1,2851.2 508.9,2846.1 510.7,2842.5 512.5,2846.8 514.3,2851.3 516.1,2857.5 517.9,2856 519.7,2852.1 521.5,2844.7 523.3,2846.2 525.1,2848.5 526.9,2855.9 528.7,2859.5 530.5,2853.7 532.3,2850.8 534.1,2846.8 535.9,2849 537.7,2850.3 539.5,2849.7 541.3,2852.6 543.1,2851.5 544.2,2850.9 546.6,2848.4 547.6,2838.3 548.6,2788.2 549.6,2717.9 550.5,2627.6 551,2527.2 551.5,2401.8 552.2,2326.5 553,2401.8 553.8,2527.2 554.4,2637.6 555,2738 556,2828.3 556.9,2878.5 557.6,2918.6 558.2,2937.2 558.9,2913.6 559.6,2868.4 560.9,2838.3 562.5,2815.8 563.8,2810.7 565,2820.8 566.8,2835.8 568.8,2845.9 571,2850.9 572.8,2851.6 574.5,2850.1 576.4,2849.8 578.1,2851.3 580,2851.5 581.8,2850.1 583.5,2849.4 585.4,2850.5 587.1,2852 589,2850.6 590.8,2849.9 592.5,2852.1 594.4,2854.7 596.1,2849.1 598,2848.8 599.8,2850.5 601.5,2850.1 603.4,2850.6 605.1,2849.2 607,2850.6 608.8,2849.5 610.5,2848.1 612.4,2847.1 614.1,2850 616,2855.9 617.8,2856.9 619.5,2853.3 621.4,2847 623.1,2843.8 625,2845.8 626.8,2853.4 628.6,2858.3 630.4,2856.6 632.1,2850.6 634,2844.5 635.8,2844.4 637.6,2849.8 639.4,2854.7 641.2,2858.3 643,2856 644.8,2848.9 646.6,2845.7 648.4,2849.1 650.2,2850.4 652,2851.9 653.8,2851.1 655.6,2851.8 656.7,2850.9 659.1,2848.4 660.1,2838.3 661.1,2788.2 662.1,2717.9 662.9,2627.6 663.5,2527.2 664,2401.8 664.7,2326.5 665.5,2401.8 666.2,2527.2 666.8,2637.6 667.5,2738 668.4,2828.3 669.3,2878.5 670.1,2918.6 670.7,2937.2 671.3,2913.6 672.1,2868.4 673.3,2838.3 674.9,2815.8 676.2,2810.7 677.5,2820.8 679.2,2835.8 681.2,2845.9 683.4,2850.9 685.2,2852.5 687,2850.4 688.8,2854 690.6,2850.9 692.4,2850 694.2,2848.6 696,2851.5 697.8,2852.1 699.6,2854.4 701.4,2850.8 703.2,2847.4 705,2851.2 706.8,2851.6 708.6,2852.2 710.4,2851.2 712.2,2850.9 714,2851.2 715.8,2849.9 717.6,2849.7 719.4,2851 721.2,2850.8 723,2848.5 724.8,2843.5 726.6,2850.4 728.4,2854.8 730.2,2858.3 732,2852 733.8,2848 735.6,2843.9 737.4,2845.7 739.2,2853.4 741,2858.3 742.8,2857.4 744.6,2851.9 746.4,2843.3 748.2,2842.3 750,2849.7 751.8,2853.1 753.6,2858.4 755.4,2855.6 757.2,2849.3 759,2845.7 760.8,2848.1 762.6,2851.4 764.4,2850.8 766.2,2852.3 768,2848.8 769.1,2850.9 771.5,2848.4 772.5,2838.3 773.5,2788.2 774.5,2717.9 775.4,2627.6 775.9,2527.2 776.4,2401.8 777.1,2326.5 777.9,2401.8 778.6,2527.2 779.2,2637.6 779.9,2738 780.9,2828.3 781.8,2878.5 782.5,2918.6 783.1,2937.2 783.8,2913.6 784.5,2868.4 785.8,2838.3 787.4,2815.8 788.6,2810.7 789.9,2820.8 791.6,2835.8 793.6,2845.9 795.9,2850.9 797.6,2851.8 799.4,2851.8 801.2,2851.6 803,2850.7 804.9,2850 806.6,2849.4 808.4,2849.8 810.2,2852.8 812,2851 813.9,2849.5 815.6,2850.9 817.5,2849.7 819.2,2852.5 821,2848.9 822.9,2849.6 824.6,2850.6 826.5,2852.8 828.2,2852.4 830,2851.3 831.9,2849.5 833.6,2849.9 835.5,2850.9 837.2,2845.2 839,2850.1 840.9,2855.8 842.6,2858.1 844.5,2853.3 846.2,2846.7 848,2843.3 849.9,2847.2 851.6,2851.6 853.5,2857.6 855.2,2856.7 857,2850.9 858.9,2845.3 860.6,2843.6 862.5,2849.6 864.2,2854.7 866,2858.1 867.9,2855.8 869.6,2851 871.5,2845.1 873.2,2849.1 875,2850.9 876.9,2851.2 878.6,2851.5 880.5,2851.3 881.6,2850.9 884,2848.4 885,2838.3 886,2788.2 887,2717.9 887.8,2627.6 888.4,2527.2 888.9,2401.8 889.6,2326.5 890.4,2401.8 891.1,2527.2 891.7,2637.6 892.4,2738 893.3,2828.3 894.2,2878.5 895,2918.6 895.6,2937.2 896.2,2913.6 897,2868.4 898.2,2838.3 899.8,2815.8 901.1,2810.7 902.4,2820.8 904.1,2835.8 906.1,2845.9 908.3,2850.9 910.1,2852.1 911.9,2851.5 913.7,2848.6 915.5,2849.5 917.3,2848.6 919.1,2849.7 920.9,2851.9 922.7,2853.9 924.5,2855.3 926.3,2848.6 928.1,2847.6 929.9,2851.2 931.7,2852.4 933.5,2850.6 935.3,2849 937.1,2849.3 938.9,2853.7 940.7,2851.3 942.5,2851 944.3,2852.7 946.1,2851.8 947.9,2847.7 949.7,2846.3 951.5,2853.2 953.3,2855.7 955.1,2857.7 956.9,2852.7 958.7,2846.8 960.5,2842.7 962.3,2847.5 964.1,2853 965.9,2859 967.7,2857.7 969.5,2849.9 971.3,2843.2 973.1,2843.5 974.9,2848.6 976.7,2854.1 978.5,2857.9 980.3,2853.5 982.1,2848.4 983.9,2849.2 985.7,2848.8 987.5,2851.2 989.3,2851.7 991.1,2850.7 992.9,2850.8 994,2850.9 996.4,2848.4 997.4,2838.3 998.4,2788.2 999.4,2717.9 1000.2,2627.6 1000.8,2527.2 1001.3,2401.8 1002,2326.5 1002.8,2401.8 1003.5,2527.2 1004.1,2637.6 1004.8,2738 1005.8,2828.3 1006.6,2878.5 1007.4,2918.6 1008,2937.2 1008.6,2913.6 1009.4,2868.4 1010.6,2838.3 1012.2,2815.8 1013.5,2810.7 1014.8,2820.8 1016.5,2835.8 1018.5,2845.9 1020.8,2850.9 1022.5,2851.2 1024.3,2849.2 1026.1,2850.4 1028,2850.4 1029.8,2850.7 1031.5,2847.6 1033.3,2851 1035.1,2851 1037,2852.6 1038.8,2848.2 1040.5,2847.4 1042.3,2850.8 1044.1,2853.3 1046,2850.7 1047.8,2848.5 1049.5,2851.7 1051.3,2852.9 1053.1,2851.6 1055,2849.3 1056.8,2849 1058.5,2851.5 1060.3,2848.8 1062.1,2848.1 1064,2850.2 1065.8,2855.8 1067.5,2856.1 1069.3,2855 1071.2,2845.7 1073,2843.5 1074.8,2846.9 1076.5,2853.2 1078.3,2858.7 1080.2,2856.7 1082,2851.2 1083.8,2843.7 1085.5,2844.2 1087.3,2850.2 1089.2,2856 1091,2858 1092.8,2857.2 1094.5,2850 1096.3,2846 1098.2,2850.4 1100,2849.9 1101.8,2850.5 1103.5,2851.5 1105.3,2850.9 1106.5,2850.9 1108.9,2848.4 1109.9,2838.3 1110.9,2788.2 1111.9,2717.9 1112.7,2627.6 1113.3,2527.2 1113.8,2401.8 1114.5,2326.5 1115.3,2401.8 1116,2527.2 1116.6,2637.6 1117.3,2738 1118.2,2828.3 1119.1,2878.5 1119.9,2918.6 1120.5,2937.2 1121.1,2913.6 1121.9,2868.4 1123.1,2838.3 1124.7,2815.8 1126,2810.7 1127.3,2820.8 1129,2835.8" fill="none" stroke="#020ec4" stroke-width="5.7" stroke-linejoin="round" clip-path="url(#ce)"/>
<line x1="189.1" y1="2225.9" x2="1131" y2="2225.9" stroke="#000" stroke-width="5.9"/>
<line x1="189.1" y1="2978.9" x2="1131" y2="2978.9" stroke="#000" stroke-width="5.8"/>
<line x1="192" y1="2223" x2="192" y2="2981.8" stroke="#000" stroke-width="5.9"/>
<line x1="1127.5" y1="2223" x2="1127.5" y2="2981.8" stroke="#000" stroke-width="6.9"/>
<line x1="176.2" y1="2828.3" x2="191.8" y2="2828.3" stroke="#000" stroke-width="6"/>
<text transform="translate(168,2841)" font-size="44" text-anchor="end">0.0</text>
<line x1="176.2" y1="2577.4" x2="191.8" y2="2577.4" stroke="#000" stroke-width="6"/>
<text transform="translate(168,2590.1)" font-size="44" text-anchor="end">0.5</text>
<line x1="176.2" y1="2326.5" x2="191.8" y2="2326.5" stroke="#000" stroke-width="6"/>
<text transform="translate(168,2339.2)" font-size="44" text-anchor="end">1.0</text>
<line x1="191.8" y1="2978.7" x2="191.8" y2="2993.7" stroke="#000" stroke-width="6.3"/>
<text transform="translate(191.8,3036)" font-size="44" text-anchor="middle">-80</text>
<line x1="308.8" y1="2978.7" x2="308.8" y2="2993.7" stroke="#000" stroke-width="6.3"/>
<text transform="translate(308.8,3036)" font-size="44" text-anchor="middle">-60</text>
<line x1="425.8" y1="2978.7" x2="425.8" y2="2993.7" stroke="#000" stroke-width="6.3"/>
<text transform="translate(425.8,3036)" font-size="44" text-anchor="middle">-40</text>
<line x1="542.7" y1="2978.7" x2="542.7" y2="2993.7" stroke="#000" stroke-width="6.3"/>
<text transform="translate(542.7,3036)" font-size="44" text-anchor="middle">-20</text>
<line x1="659.7" y1="2978.7" x2="659.7" y2="2993.7" stroke="#000" stroke-width="6.3"/>
<text transform="translate(659.7,3036)" font-size="44" text-anchor="middle">0</text>
<line x1="776.7" y1="2978.7" x2="776.7" y2="2993.7" stroke="#000" stroke-width="6.3"/>
<text transform="translate(776.7,3036)" font-size="44" text-anchor="middle">20</text>
<line x1="893.7" y1="2978.7" x2="893.7" y2="2993.7" stroke="#000" stroke-width="6.3"/>
<text transform="translate(893.7,3036)" font-size="44" text-anchor="middle">40</text>
<line x1="1010.6" y1="2978.7" x2="1010.6" y2="2993.7" stroke="#000" stroke-width="6.3"/>
<text transform="translate(1010.6,3036)" font-size="44" text-anchor="middle">60</text>
<line x1="1127.6" y1="2978.7" x2="1127.6" y2="2993.7" stroke="#000" stroke-width="6.3"/>
<text transform="translate(1127.6,3036)" font-size="44" text-anchor="middle">80</text>
<text transform="translate(660.3,3105.9)" font-size="63" text-anchor="middle">Time (ns)</text>
<text transform="translate(81.7,2583.5) rotate(-90)" font-size="63" text-anchor="middle">Intensity (a.u.)</text>
<text transform="translate(17,2240.8)" font-size="64" text-anchor="start">(e)</text>
<line x1="793.2" y1="2381.6" x2="870.7" y2="2381.6" stroke="#000" stroke-width="4.6"/>
<polygon points="773.2,2381.6 801.2,2373.6 801.2,2389.6" fill="#000"/>
<polygon points="890.7,2381.6 862.7,2373.6 862.7,2389.6" fill="#000"/>
<text transform="translate(796.9,2319.6) scale(1.030,1)" font-size="37" text-anchor="start">19.23 ns</text>
</g>
<g id="panel-f">
<polyline points="1365.5,2887 1368.3,2900.4 1371.2,2864.6 1374,2903.9 1376.8,2892.9 1379.7,2893.6 1382.5,2899.5 1385.3,2869.2 1388.2,2911.7 1391,2913.5 1393.8,2898.8 1396.7,2872.4 1399.5,2884.9 1402.3,2881.5 1405.2,2911.5 1408,2914.9 1410.8,2885.1 1413.7,2896 1416.5,2895.9 1419.4,2883.9 1422.2,2914.8 1425,2915 1427.9,2897.9 1430.7,2910.7 1433.5,2906.3 1436.4,2893.6 1439.2,2898.5 1442,2899.1 1444.9,2890.9 1447.7,2874.8 1450.5,2866.1 1453.4,2890.3 1456.2,2903.3 1459,2883.7 1461.9,2880.4 1464.7,2886.4 1467.5,2902.5 1470.4,2886.7 1473.2,2877.9 1476,2909.7 1478.9,2885.4 1481.7,2889.1 1484.5,2902.1 1487.4,2913.4 1490.2,2901.4 1493,2892.5 1495.9,2895.9 1498.7,2918.3 1501.5,2928.1 1504.4,2886.3 1507.2,2886.8 1510.1,2887.7 1512.9,2882.8 1515.7,2880.9 1518.6,2867.5 1521.4,2886.2 1524.2,2895.5 1527.1,2904.5 1529.9,2880.3 1532.7,2889.2 1535.6,2901.8 1538.4,2895.9 1541.2,2893.3 1544.1,2860.2 1546.9,2883.9 1549.7,2880.4 1552.6,2883.7 1555.4,2893.7 1558.2,2889.4 1561.1,2888.6 1563.9,2893.6 1566.7,2898.1 1569.6,2900.7 1572.4,2901.5 1575.2,2893.5 1578.1,2895.9 1580.9,2884.4 1583.7,2874.9 1586.6,2891.3 1589.4,2900.2 1592.2,2881.6 1595.1,2892 1597.9,2894.3 1600.8,2920.4 1603.6,2897.5 1606.4,2881.6 1609.3,2881.6 1612.1,2906.4 1614.9,2913.1 1617.8,2886.1 1620.6,2903.3 1623.4,2891 1626.3,2921.8 1629.1,2891.9 1631.9,2908.1 1634.8,2890.6 1637.6,2909.8 1640.4,2908.1 1643.3,2889.5 1646.1,2894.2 1648.9,2868.6 1651.8,2865.3 1654.6,2896.5 1657.4,2915.4 1660.3,2917.6 1663.1,2923.1 1665.9,2911.4 1668.8,2920.2 1671.6,2931.2 1674.4,2920 1677.3,2882.1 1680.1,2891.7 1682.9,2915.9 1685.8,2931.2 1688.6,2892 1691.4,2894.3 1694.3,2903.2 1697.1,2888 1700,2892.6 1702.8,2902.7 1705.6,2901.9 1708.5,2896.4 1711.3,2897.1 1714.1,2907.6 1717,2905.1 1719.8,2903.5 1722.6,2925.4 1725.5,2915.2 1728.3,2921.7 1731.1,2903.9 1734,2900.9 1736.8,2895.7 1739.6,2893.7 1742.5,2915.9 1745.3,2904.1 1748.1,2891.4 1751,2885.5 1753.8,2893.6 1756.6,2904.4 1759.5,2896.5 1762.3,2879.8 1765.1,2888.4 1768,2916.5 1770.8,2897.5 1773.6,2893.6 1776.5,2895.7 1779.3,2900.9 1782.1,2896.9 1785,2894.1 1787.8,2912.6 1790.7,2891 1793.5,2895.3 1796.3,2897.5 1799.2,2899.8 1802,2878.3 1804.8,2876.5 1807.7,2871.7 1810.5,2891.9 1813.3,2911.8 1816.2,2902.7 1818.5,2890.8 1823,2899.1 1823.4,2600 1826.3,2293.5 1827.6,2400 1833.3,2898.3 1833.5,2899.8 1840.5,2899.8 1844.5,2918.7 1847.3,2925.6 1850.2,2931.2 1853,2920.4 1855.8,2896.8 1858.7,2904.6 1861.5,2904.7 1864.3,2869.4 1867.2,2878.4 1870,2898.4 1872.8,2888.1 1875.7,2882.5 1878.5,2873.4 1881.4,2896.3 1884.2,2891.7 1887,2891.4 1889.9,2893.5 1892.7,2897.1 1895.5,2882.1 1898.4,2879.3 1901.2,2909 1904,2908 1906.9,2896.7 1909.7,2881.6 1912.5,2884.6 1915.4,2881.5 1918.2,2891.1 1921,2900.3 1923.9,2892.2 1926.7,2874.9 1929.5,2893.9 1932.4,2899.1 1935.2,2903.4 1938,2896.8 1940.9,2882 1943.7,2888.3 1946.5,2895 1949.4,2898.5 1952.2,2909.6 1955,2901.6 1957.9,2929.8 1960.7,2902.3 1963.5,2899.7 1966.4,2889.9 1969.2,2891.8 1972.1,2895 1974.9,2904.9 1977.7,2886.8 1980.6,2880.2 1983.4,2920 1986.2,2899.1 1989.1,2876 1991.9,2887.1 1994.7,2906.7 1997.6,2923 2000.4,2906.9 2003.2,2907.4 2006.1,2926.9 2008.9,2892.1 2011.7,2885.9 2014.6,2894.3 2017.4,2892.8 2020.2,2897.5 2023.1,2891.4 2025.9,2894.6 2028.7,2895.3 2031.6,2916 2034.4,2891.3 2037.2,2904.6 2040.1,2899.6 2042.9,2919.8 2045.7,2912.3 2048.6,2885.6 2051.4,2895.5 2054.2,2906.3 2057.1,2906.5 2059.9,2891.7 2062.7,2905.2 2065.6,2881.6 2068.4,2891.2 2071.3,2895.1 2074.1,2872.4 2076.9,2864.5 2079.8,2898.2 2082.6,2910.5 2085.4,2908 2088.3,2900 2091.1,2883.3 2093.9,2905.9 2096.8,2904.4 2099.6,2894.3 2102.4,2889.4 2105.3,2878 2108.1,2923.4 2110.9,2906.2 2113.8,2903.7 2116.6,2899.9 2119.4,2897 2122.3,2899.1 2125.1,2894 2127.9,2901.1 2130.8,2884.4 2133.6,2881.7 2136.4,2925.1 2139.3,2896.5 2142.1,2894.2 2144.9,2913.3 2147.8,2907.8 2150.6,2897 2153.4,2883.1 2156.3,2878.5 2159.1,2897.9 2162,2901.7 2164.8,2884.3 2167.6,2892.5 2170.5,2902.3 2173.3,2925 2176.1,2899.2 2179,2890.6 2181.8,2900.5 2184.6,2898.9 2187.5,2916.6 2190.3,2896.9 2193.1,2877.1 2196,2877 2198.8,2902.8 2201.6,2908.5 2204.5,2905.5 2207.3,2903.2 2210.1,2891 2213,2882 2215.8,2901.3 2218.6,2903.6 2221.5,2911.6 2224.3,2870 2227.1,2899.1 2230,2865.1 2232.8,2884.6 2235.6,2887.8 2238.5,2885.9 2241.3,2900.7 2244.1,2883.9 2247,2907.4 2249.8,2902.7 2252.7,2878.4 2255.5,2884.6 2258.3,2906.4 2261.2,2906.3 2264,2901.7 2266.8,2873.1 2269.7,2884.3 2272.5,2873.6 2275.3,2882.5 2278.2,2874.5 2281,2887.1 2283.8,2888.3 2286.7,2902.6 2289.5,2894.2 2292.3,2913.4 2295.2,2894.1 2298,2879.7" fill="none" stroke="#020ec4" stroke-width="4.7" stroke-linejoin="round" clip-path="url(#cf)"/>
<line x1="1363.4" y1="2230.1" x2="2300.1" y2="2230.1" stroke="#000" stroke-width="4"/>
<line x1="1363.4" y1="2976.5" x2="2300.1" y2="2976.5" stroke="#000" stroke-width="7"/>
<line x1="1366.7" y1="2228.1" x2="1366.7" y2="2980" stroke="#000" stroke-width="6.7"/>
<line x1="2297.1" y1="2228.1" x2="2297.1" y2="2980" stroke="#000" stroke-width="6"/>
<line x1="1350.7" y1="2303.5" x2="1366.5" y2="2303.5" stroke="#000" stroke-width="6.6"/>
<text transform="translate(1343.5,2316.2)" font-size="44" text-anchor="end">-40</text>
<line x1="1350.7" y1="2452.9" x2="1366.5" y2="2452.9" stroke="#000" stroke-width="6.6"/>
<text transform="translate(1343.5,2465.6)" font-size="44" text-anchor="end">-60</text>
<line x1="1350.7" y1="2602.4" x2="1366.5" y2="2602.4" stroke="#000" stroke-width="6.6"/>
<text transform="translate(1343.5,2615.1)" font-size="44" text-anchor="end">-80</text>
<line x1="1350.7" y1="2751.8" x2="1366.5" y2="2751.8" stroke="#000" stroke-width="6.6"/>
<text transform="translate(1343.5,2764.5)" font-size="44" text-anchor="end">-100</text>
<line x1="1350.7" y1="2901.3" x2="1366.5" y2="2901.3" stroke="#000" stroke-width="6.6"/>
<text transform="translate(1343.5,2914)" font-size="44" text-anchor="end">-120</text>
<line x1="1366.5" y1="2976.7" x2="1366.5" y2="2992" stroke="#000" stroke-width="6.6"/>
<text transform="translate(1366.5,3034)" font-size="44" text-anchor="middle">51.8</text>
<line x1="1599.1" y1="2976.7" x2="1599.1" y2="2992" stroke="#000" stroke-width="6.6"/>
<text transform="translate(1599.1,3034)" font-size="44" text-anchor="middle">51.9</text>
<line x1="1831.8" y1="2976.7" x2="1831.8" y2="2992" stroke="#000" stroke-width="6.6"/>
<text transform="translate(1831.8,3034)" font-size="44" text-anchor="middle">52.0</text>
<line x1="2064.4" y1="2976.7" x2="2064.4" y2="2992" stroke="#000" stroke-width="6.6"/>
<text transform="translate(2064.4,3034)" font-size="44" text-anchor="middle">52.1</text>
<line x1="2297" y1="2976.7" x2="2297" y2="2992" stroke="#000" stroke-width="6.6"/>
<text transform="translate(2297,3034)" font-size="44" text-anchor="middle">52.2</text>
<text transform="translate(1833.2,3104.5)" font-size="63" text-anchor="middle">Frequency (MHz)</text>
<text transform="translate(1250.2,2581.3) rotate(-90) scale(1.007,1)" font-size="63" text-anchor="middle">Intensity (dBm)</text>
<text transform="translate(1167,2240.8)" font-size="64" text-anchor="start">(f)</text>
<line x1="1866.4" y1="2300" x2="1866.4" y2="2852" stroke="#ff0000" stroke-width="4.7"/>
<line x1="1835.2" y1="2286.1" x2="1893.3" y2="2286.1" stroke="#ff0000" stroke-width="4.4"/>
<line x1="1841.3" y1="2865.6" x2="1898.7" y2="2865.6" stroke="#ff0000" stroke-width="4.4"/>
<polygon points="1866.4,2288.3 1858.9,2308.5 1873.9,2308.5" fill="#ff0000"/>
<polygon points="1866.4,2863.4 1858.9,2843 1873.9,2843" fill="#ff0000"/>
<text transform="translate(1915.8,2565)" font-size="39" text-anchor="start"><tspan font-style="italic">f</tspan> = 52 MHz</text>
<text transform="translate(1922.4,2614.1)" font-size="39" text-anchor="start">SNR = 75 dB</text>
</g>
</svg></body></html>
